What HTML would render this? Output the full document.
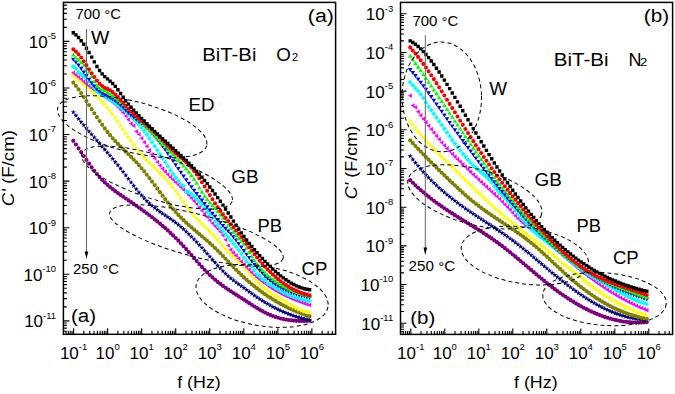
<!DOCTYPE html>
<html><head><meta charset="utf-8"><style>html,body{margin:0;padding:0;background:#fff;overflow:hidden}svg{display:block}</style></head><body>
<svg xmlns="http://www.w3.org/2000/svg" width="675" height="394" viewBox="0 0 675 394" font-family='"Liberation Sans", sans-serif'>
<rect width="675" height="394" fill="#fff"/>
<path d="M71.21 140.85a2.09 2.09 0 1 0 4.18 0a2.09 2.09 0 1 0 -4.18 0zM73.84 144.53a2.09 2.09 0 1 0 4.18 0a2.09 2.09 0 1 0 -4.18 0zM76.46 148.32a2.09 2.09 0 1 0 4.18 0a2.09 2.09 0 1 0 -4.18 0zM79.09 152.18a2.09 2.09 0 1 0 4.18 0a2.09 2.09 0 1 0 -4.18 0zM81.71 156.06a2.09 2.09 0 1 0 4.18 0a2.09 2.09 0 1 0 -4.18 0zM84.34 159.91a2.09 2.09 0 1 0 4.18 0a2.09 2.09 0 1 0 -4.18 0zM86.96 163.69a2.09 2.09 0 1 0 4.18 0a2.09 2.09 0 1 0 -4.18 0zM89.59 167.33a2.09 2.09 0 1 0 4.18 0a2.09 2.09 0 1 0 -4.18 0zM92.21 170.80a2.09 2.09 0 1 0 4.18 0a2.09 2.09 0 1 0 -4.18 0zM94.84 174.05a2.09 2.09 0 1 0 4.18 0a2.09 2.09 0 1 0 -4.18 0zM97.47 177.05a2.09 2.09 0 1 0 4.18 0a2.09 2.09 0 1 0 -4.18 0zM100.09 179.83a2.09 2.09 0 1 0 4.18 0a2.09 2.09 0 1 0 -4.18 0zM102.72 182.41a2.09 2.09 0 1 0 4.18 0a2.09 2.09 0 1 0 -4.18 0zM105.34 184.80a2.09 2.09 0 1 0 4.18 0a2.09 2.09 0 1 0 -4.18 0zM107.97 187.04a2.09 2.09 0 1 0 4.18 0a2.09 2.09 0 1 0 -4.18 0zM110.59 189.15a2.09 2.09 0 1 0 4.18 0a2.09 2.09 0 1 0 -4.18 0zM113.22 191.15a2.09 2.09 0 1 0 4.18 0a2.09 2.09 0 1 0 -4.18 0zM115.84 193.06a2.09 2.09 0 1 0 4.18 0a2.09 2.09 0 1 0 -4.18 0zM118.47 194.91a2.09 2.09 0 1 0 4.18 0a2.09 2.09 0 1 0 -4.18 0zM121.10 196.71a2.09 2.09 0 1 0 4.18 0a2.09 2.09 0 1 0 -4.18 0zM123.72 198.50a2.09 2.09 0 1 0 4.18 0a2.09 2.09 0 1 0 -4.18 0zM126.35 200.30a2.09 2.09 0 1 0 4.18 0a2.09 2.09 0 1 0 -4.18 0zM128.97 202.10a2.09 2.09 0 1 0 4.18 0a2.09 2.09 0 1 0 -4.18 0zM131.60 203.91a2.09 2.09 0 1 0 4.18 0a2.09 2.09 0 1 0 -4.18 0zM134.22 205.73a2.09 2.09 0 1 0 4.18 0a2.09 2.09 0 1 0 -4.18 0zM136.85 207.58a2.09 2.09 0 1 0 4.18 0a2.09 2.09 0 1 0 -4.18 0zM139.47 209.45a2.09 2.09 0 1 0 4.18 0a2.09 2.09 0 1 0 -4.18 0zM142.10 211.35a2.09 2.09 0 1 0 4.18 0a2.09 2.09 0 1 0 -4.18 0zM144.73 213.28a2.09 2.09 0 1 0 4.18 0a2.09 2.09 0 1 0 -4.18 0zM147.35 215.26a2.09 2.09 0 1 0 4.18 0a2.09 2.09 0 1 0 -4.18 0zM149.98 217.27a2.09 2.09 0 1 0 4.18 0a2.09 2.09 0 1 0 -4.18 0zM152.60 219.33a2.09 2.09 0 1 0 4.18 0a2.09 2.09 0 1 0 -4.18 0zM155.23 221.44a2.09 2.09 0 1 0 4.18 0a2.09 2.09 0 1 0 -4.18 0zM157.85 223.60a2.09 2.09 0 1 0 4.18 0a2.09 2.09 0 1 0 -4.18 0zM160.48 225.83a2.09 2.09 0 1 0 4.18 0a2.09 2.09 0 1 0 -4.18 0zM163.10 228.11a2.09 2.09 0 1 0 4.18 0a2.09 2.09 0 1 0 -4.18 0zM165.73 230.47a2.09 2.09 0 1 0 4.18 0a2.09 2.09 0 1 0 -4.18 0zM168.36 232.89a2.09 2.09 0 1 0 4.18 0a2.09 2.09 0 1 0 -4.18 0zM170.98 235.40a2.09 2.09 0 1 0 4.18 0a2.09 2.09 0 1 0 -4.18 0zM173.61 237.98a2.09 2.09 0 1 0 4.18 0a2.09 2.09 0 1 0 -4.18 0zM176.23 240.65a2.09 2.09 0 1 0 4.18 0a2.09 2.09 0 1 0 -4.18 0zM178.86 243.41a2.09 2.09 0 1 0 4.18 0a2.09 2.09 0 1 0 -4.18 0zM181.48 246.25a2.09 2.09 0 1 0 4.18 0a2.09 2.09 0 1 0 -4.18 0zM184.11 249.17a2.09 2.09 0 1 0 4.18 0a2.09 2.09 0 1 0 -4.18 0zM186.73 252.14a2.09 2.09 0 1 0 4.18 0a2.09 2.09 0 1 0 -4.18 0zM189.36 255.13a2.09 2.09 0 1 0 4.18 0a2.09 2.09 0 1 0 -4.18 0zM191.99 258.13a2.09 2.09 0 1 0 4.18 0a2.09 2.09 0 1 0 -4.18 0zM194.61 261.11a2.09 2.09 0 1 0 4.18 0a2.09 2.09 0 1 0 -4.18 0zM197.24 264.06a2.09 2.09 0 1 0 4.18 0a2.09 2.09 0 1 0 -4.18 0zM199.86 266.95a2.09 2.09 0 1 0 4.18 0a2.09 2.09 0 1 0 -4.18 0zM202.49 269.75a2.09 2.09 0 1 0 4.18 0a2.09 2.09 0 1 0 -4.18 0zM205.11 272.46a2.09 2.09 0 1 0 4.18 0a2.09 2.09 0 1 0 -4.18 0zM207.74 275.04a2.09 2.09 0 1 0 4.18 0a2.09 2.09 0 1 0 -4.18 0zM210.36 277.47a2.09 2.09 0 1 0 4.18 0a2.09 2.09 0 1 0 -4.18 0zM212.99 279.76a2.09 2.09 0 1 0 4.18 0a2.09 2.09 0 1 0 -4.18 0zM215.62 281.91a2.09 2.09 0 1 0 4.18 0a2.09 2.09 0 1 0 -4.18 0zM218.24 283.96a2.09 2.09 0 1 0 4.18 0a2.09 2.09 0 1 0 -4.18 0zM220.87 285.90a2.09 2.09 0 1 0 4.18 0a2.09 2.09 0 1 0 -4.18 0zM223.49 287.76a2.09 2.09 0 1 0 4.18 0a2.09 2.09 0 1 0 -4.18 0zM226.12 289.55a2.09 2.09 0 1 0 4.18 0a2.09 2.09 0 1 0 -4.18 0zM228.74 291.28a2.09 2.09 0 1 0 4.18 0a2.09 2.09 0 1 0 -4.18 0zM231.37 292.98a2.09 2.09 0 1 0 4.18 0a2.09 2.09 0 1 0 -4.18 0zM233.99 294.66a2.09 2.09 0 1 0 4.18 0a2.09 2.09 0 1 0 -4.18 0zM236.62 296.33a2.09 2.09 0 1 0 4.18 0a2.09 2.09 0 1 0 -4.18 0zM239.25 298.02a2.09 2.09 0 1 0 4.18 0a2.09 2.09 0 1 0 -4.18 0zM241.87 299.72a2.09 2.09 0 1 0 4.18 0a2.09 2.09 0 1 0 -4.18 0zM244.50 301.43a2.09 2.09 0 1 0 4.18 0a2.09 2.09 0 1 0 -4.18 0zM247.12 303.13a2.09 2.09 0 1 0 4.18 0a2.09 2.09 0 1 0 -4.18 0zM249.75 304.82a2.09 2.09 0 1 0 4.18 0a2.09 2.09 0 1 0 -4.18 0zM252.37 306.47a2.09 2.09 0 1 0 4.18 0a2.09 2.09 0 1 0 -4.18 0zM255.00 308.08a2.09 2.09 0 1 0 4.18 0a2.09 2.09 0 1 0 -4.18 0zM257.62 309.63a2.09 2.09 0 1 0 4.18 0a2.09 2.09 0 1 0 -4.18 0zM260.25 311.10a2.09 2.09 0 1 0 4.18 0a2.09 2.09 0 1 0 -4.18 0zM262.88 312.49a2.09 2.09 0 1 0 4.18 0a2.09 2.09 0 1 0 -4.18 0zM265.50 313.78a2.09 2.09 0 1 0 4.18 0a2.09 2.09 0 1 0 -4.18 0zM268.13 314.96a2.09 2.09 0 1 0 4.18 0a2.09 2.09 0 1 0 -4.18 0zM270.75 316.01a2.09 2.09 0 1 0 4.18 0a2.09 2.09 0 1 0 -4.18 0zM273.38 316.95a2.09 2.09 0 1 0 4.18 0a2.09 2.09 0 1 0 -4.18 0zM276.00 317.77a2.09 2.09 0 1 0 4.18 0a2.09 2.09 0 1 0 -4.18 0zM278.63 318.48a2.09 2.09 0 1 0 4.18 0a2.09 2.09 0 1 0 -4.18 0zM281.25 319.09a2.09 2.09 0 1 0 4.18 0a2.09 2.09 0 1 0 -4.18 0zM283.88 319.60a2.09 2.09 0 1 0 4.18 0a2.09 2.09 0 1 0 -4.18 0zM286.51 320.02a2.09 2.09 0 1 0 4.18 0a2.09 2.09 0 1 0 -4.18 0zM289.13 320.35a2.09 2.09 0 1 0 4.18 0a2.09 2.09 0 1 0 -4.18 0zM291.76 320.61a2.09 2.09 0 1 0 4.18 0a2.09 2.09 0 1 0 -4.18 0zM294.38 320.79a2.09 2.09 0 1 0 4.18 0a2.09 2.09 0 1 0 -4.18 0zM297.01 320.90a2.09 2.09 0 1 0 4.18 0a2.09 2.09 0 1 0 -4.18 0zM299.63 320.94a2.09 2.09 0 1 0 4.18 0a2.09 2.09 0 1 0 -4.18 0zM302.26 320.94a2.09 2.09 0 1 0 4.18 0a2.09 2.09 0 1 0 -4.18 0zM304.88 320.88a2.09 2.09 0 1 0 4.18 0a2.09 2.09 0 1 0 -4.18 0zM307.51 320.77a2.09 2.09 0 1 0 4.18 0a2.09 2.09 0 1 0 -4.18 0z" fill="#800080"/>
<path d="M73.30 109.55L73.98 111.27L75.82 111.38L74.39 112.55L74.85 114.34L73.30 113.35L71.75 114.34L72.21 112.55L70.78 111.38L72.62 111.27zM75.93 112.90L76.60 114.61L78.44 114.73L77.02 115.90L77.48 117.68L75.93 116.69L74.37 117.68L74.83 115.90L73.41 114.73L75.25 114.61zM78.55 116.17L79.23 117.89L81.07 118.00L79.64 119.17L80.11 120.96L78.55 119.97L77.00 120.96L77.46 119.17L76.04 118.00L77.88 117.89zM81.18 119.39L81.85 121.10L83.69 121.21L82.27 122.39L82.73 124.17L81.18 123.18L79.62 124.17L80.08 122.39L78.66 121.21L80.50 121.10zM83.80 122.54L84.48 124.26L86.32 124.37L84.90 125.54L85.36 127.33L83.80 126.34L82.25 127.33L82.71 125.54L81.29 124.37L83.13 124.26zM86.43 125.66L87.10 127.37L88.94 127.48L87.52 128.66L87.98 130.44L86.43 129.45L84.87 130.44L85.33 128.66L83.91 127.48L85.75 127.37zM89.05 128.73L89.73 130.45L91.57 130.56L90.15 131.73L90.61 133.52L89.05 132.53L87.50 133.52L87.96 131.73L86.54 130.56L88.38 130.45zM91.68 131.78L92.35 133.49L94.19 133.61L92.77 134.78L93.23 136.56L91.68 135.57L90.12 136.56L90.59 134.78L89.16 133.61L91.00 133.49zM94.30 134.81L94.98 136.52L96.82 136.63L95.40 137.81L95.86 139.59L94.30 138.60L92.75 139.59L93.21 137.81L91.79 136.63L93.63 136.52zM96.93 137.82L97.61 139.54L99.45 139.65L98.02 140.82L98.48 142.61L96.93 141.62L95.38 142.61L95.84 140.82L94.41 139.65L96.25 139.54zM99.56 140.84L100.23 142.55L102.07 142.66L100.65 143.84L101.11 145.62L99.56 144.63L98.00 145.62L98.46 143.84L97.04 142.66L98.88 142.55zM102.18 143.86L102.86 145.57L104.70 145.68L103.27 146.86L103.74 148.64L102.18 147.65L100.63 148.64L101.09 146.86L99.67 145.68L101.51 145.57zM104.81 146.89L105.48 148.60L107.32 148.72L105.90 149.89L106.36 151.67L104.81 150.68L103.25 151.67L103.71 149.89L102.29 148.72L104.13 148.60zM107.43 149.95L108.11 151.66L109.95 151.77L108.53 152.95L108.99 154.73L107.43 153.74L105.88 154.73L106.34 152.95L104.92 151.77L106.76 151.66zM110.06 153.04L110.73 154.75L112.57 154.86L111.15 156.04L111.61 157.82L110.06 156.83L108.50 157.82L108.96 156.04L107.54 154.86L109.38 154.75zM112.68 156.17L113.36 157.88L115.20 157.99L113.78 159.17L114.24 160.95L112.68 159.96L111.13 160.95L111.59 159.17L110.17 157.99L112.01 157.88zM115.31 159.34L115.98 161.06L117.82 161.17L116.40 162.35L116.86 164.13L115.31 163.14L113.75 164.13L114.22 162.35L112.79 161.17L114.63 161.06zM117.93 162.58L118.61 164.30L120.45 164.41L119.03 165.58L119.49 167.37L117.93 166.38L116.38 167.37L116.84 165.58L115.42 164.41L117.26 164.30zM120.56 165.88L121.24 167.60L123.08 167.71L121.65 168.88L122.11 170.67L120.56 169.68L119.01 170.67L119.47 168.88L118.04 167.71L119.88 167.60zM123.19 169.26L123.86 170.98L125.70 171.09L124.28 172.26L124.74 174.05L123.19 173.06L121.63 174.05L122.09 172.26L120.67 171.09L122.51 170.98zM125.81 172.71L126.49 174.42L128.33 174.53L126.90 175.71L127.37 177.49L125.81 176.50L124.26 177.49L124.72 175.71L123.30 174.53L125.14 174.42zM128.44 176.19L129.11 177.90L130.95 178.01L129.53 179.19L129.99 180.97L128.44 179.98L126.88 180.97L127.34 179.19L125.92 178.01L127.76 177.90zM131.06 179.66L131.74 181.38L133.58 181.49L132.16 182.66L132.62 184.45L131.06 183.46L129.51 184.45L129.97 182.66L128.55 181.49L130.39 181.38zM133.69 183.10L134.36 184.81L136.20 184.92L134.78 186.10L135.24 187.88L133.69 186.89L132.13 187.88L132.59 186.10L131.17 184.92L133.01 184.81zM136.31 186.45L136.99 188.17L138.83 188.28L137.41 189.45L137.87 191.24L136.31 190.25L134.76 191.24L135.22 189.45L133.80 188.28L135.64 188.17zM138.94 189.70L139.61 191.41L141.45 191.53L140.03 192.70L140.49 194.48L138.94 193.49L137.38 194.48L137.85 192.70L136.42 191.53L138.26 191.41zM141.56 192.79L142.24 194.51L144.08 194.62L142.66 195.79L143.12 197.58L141.56 196.59L140.01 197.58L140.47 195.79L139.05 194.62L140.89 194.51zM144.19 195.70L144.87 197.42L146.71 197.53L145.28 198.70L145.74 200.49L144.19 199.50L142.64 200.49L143.10 198.70L141.67 197.53L143.51 197.42zM146.82 198.39L147.49 200.10L149.33 200.22L147.91 201.39L148.37 203.18L146.82 202.19L145.26 203.18L145.72 201.39L144.30 200.22L146.14 200.10zM149.44 200.86L150.12 202.57L151.96 202.69L150.53 203.86L151.00 205.64L149.44 204.65L147.89 205.64L148.35 203.86L146.93 202.69L148.77 202.57zM152.07 203.14L152.74 204.85L154.58 204.97L153.16 206.14L153.62 207.92L152.07 206.93L150.51 207.92L150.97 206.14L149.55 204.97L151.39 204.85zM154.69 205.26L155.37 206.97L157.21 207.09L155.79 208.26L156.25 210.04L154.69 209.05L153.14 210.04L153.60 208.26L152.18 207.09L154.02 206.97zM157.32 207.25L157.99 208.96L159.83 209.08L158.41 210.25L158.87 212.03L157.32 211.05L155.76 212.03L156.22 210.25L154.80 209.08L156.64 208.96zM159.94 209.14L160.62 210.86L162.46 210.97L161.04 212.14L161.50 213.93L159.94 212.94L158.39 213.93L158.85 212.14L157.43 210.97L159.27 210.86zM162.57 210.96L163.24 212.68L165.08 212.79L163.66 213.96L164.12 215.75L162.57 214.76L161.01 215.75L161.48 213.96L160.05 212.79L161.89 212.68zM165.19 212.74L165.87 214.46L167.71 214.57L166.29 215.74L166.75 217.53L165.19 216.54L163.64 217.53L164.10 215.74L162.68 214.57L164.52 214.46zM167.82 214.51L168.50 216.23L170.34 216.34L168.91 217.52L169.37 219.30L167.82 218.31L166.27 219.30L166.73 217.52L165.30 216.34L167.14 216.23zM170.45 216.31L171.12 218.02L172.96 218.13L171.54 219.31L172.00 221.09L170.45 220.10L168.89 221.09L169.35 219.31L167.93 218.13L169.77 218.02zM173.07 218.15L173.75 219.86L175.59 219.97L174.16 221.15L174.63 222.93L173.07 221.94L171.52 222.93L171.98 221.15L170.56 219.97L172.40 219.86zM175.70 220.07L176.37 221.78L178.21 221.89L176.79 223.07L177.25 224.85L175.70 223.86L174.14 224.85L174.60 223.07L173.18 221.89L175.02 221.78zM178.32 222.10L179.00 223.81L180.84 223.92L179.42 225.10L179.88 226.88L178.32 225.89L176.77 226.88L177.23 225.10L175.81 223.92L177.65 223.81zM180.95 224.26L181.62 225.97L183.46 226.08L182.04 227.26L182.50 229.04L180.95 228.05L179.39 229.04L179.85 227.26L178.43 226.08L180.27 225.97zM183.57 226.54L184.25 228.26L186.09 228.37L184.67 229.54L185.13 231.33L183.57 230.34L182.02 231.33L182.48 229.54L181.06 228.37L182.90 228.26zM186.20 228.95L186.87 230.66L188.71 230.77L187.29 231.95L187.75 233.73L186.20 232.74L184.64 233.73L185.11 231.95L183.68 230.77L185.52 230.66zM188.82 231.46L189.50 233.17L191.34 233.28L189.92 234.46L190.38 236.24L188.82 235.25L187.27 236.24L187.73 234.46L186.31 233.28L188.15 233.17zM191.45 234.06L192.13 235.77L193.97 235.89L192.54 237.06L193.00 238.84L191.45 237.85L189.90 238.84L190.36 237.06L188.93 235.89L190.77 235.77zM194.08 236.75L194.75 238.46L196.59 238.57L195.17 239.75L195.63 241.53L194.08 240.54L192.52 241.53L192.98 239.75L191.56 238.57L193.40 238.46zM196.70 239.51L197.38 241.22L199.22 241.34L197.79 242.51L198.26 244.29L196.70 243.30L195.15 244.29L195.61 242.51L194.19 241.34L196.03 241.22zM199.33 242.33L200.00 244.05L201.84 244.16L200.42 245.33L200.88 247.12L199.33 246.13L197.77 247.12L198.23 245.33L196.81 244.16L198.65 244.05zM201.95 245.21L202.63 246.92L204.47 247.03L203.05 248.21L203.51 249.99L201.95 249.00L200.40 249.99L200.86 248.21L199.44 247.03L201.28 246.92zM204.58 248.12L205.25 249.84L207.09 249.95L205.67 251.12L206.13 252.91L204.58 251.92L203.02 252.91L203.48 251.12L202.06 249.95L203.90 249.84zM207.20 251.07L207.88 252.79L209.72 252.90L208.30 254.07L208.76 255.86L207.20 254.87L205.65 255.86L206.11 254.07L204.69 252.90L206.53 252.79zM209.83 254.04L210.50 255.75L212.34 255.87L210.92 257.04L211.38 258.82L209.83 257.83L208.27 258.82L208.74 257.04L207.31 255.87L209.15 255.75zM212.45 257.02L213.13 258.73L214.97 258.84L213.55 260.02L214.01 261.80L212.45 260.81L210.90 261.80L211.36 260.02L209.94 258.84L211.78 258.73zM215.08 259.99L215.76 261.70L217.60 261.82L216.17 262.99L216.63 264.77L215.08 263.78L213.53 264.77L213.99 262.99L212.56 261.82L214.40 261.70zM217.71 262.93L218.38 264.64L220.22 264.76L218.80 265.93L219.26 267.71L217.71 266.72L216.15 267.71L216.61 265.93L215.19 264.76L217.03 264.64zM220.33 265.78L221.01 267.50L222.85 267.61L221.42 268.79L221.89 270.57L220.33 269.58L218.78 270.57L219.24 268.79L217.82 267.61L219.66 267.50zM222.96 268.51L223.63 270.23L225.47 270.34L224.05 271.51L224.51 273.30L222.96 272.31L221.40 273.30L221.86 271.51L220.44 270.34L222.28 270.23zM225.58 271.06L226.26 272.78L228.10 272.89L226.68 274.06L227.14 275.85L225.58 274.86L224.03 275.85L224.49 274.06L223.07 272.89L224.91 272.78zM228.21 273.43L228.88 275.15L230.72 275.26L229.30 276.43L229.76 278.22L228.21 277.23L226.65 278.22L227.11 276.43L225.69 275.26L227.53 275.15zM230.83 275.65L231.51 277.37L233.35 277.48L231.93 278.65L232.39 280.44L230.83 279.45L229.28 280.44L229.74 278.65L228.32 277.48L230.16 277.37zM233.46 277.74L234.13 279.45L235.97 279.57L234.55 280.74L235.01 282.52L233.46 281.53L231.90 282.52L232.37 280.74L230.94 279.57L232.78 279.45zM236.08 279.73L236.76 281.44L238.60 281.56L237.18 282.73L237.64 284.51L236.08 283.52L234.53 284.51L234.99 282.73L233.57 281.56L235.41 281.44zM238.71 281.65L239.39 283.36L241.23 283.47L239.80 284.65L240.26 286.43L238.71 285.44L237.16 286.43L237.62 284.65L236.19 283.47L238.03 283.36zM241.34 283.52L242.01 285.23L243.85 285.34L242.43 286.52L242.89 288.30L241.34 287.31L239.78 288.30L240.24 286.52L238.82 285.34L240.66 285.23zM243.96 285.37L244.64 287.09L246.48 287.20L245.05 288.37L245.52 290.16L243.96 289.17L242.41 290.16L242.87 288.37L241.45 287.20L243.29 287.09zM246.59 287.24L247.26 288.95L249.10 289.06L247.68 290.24L248.14 292.02L246.59 291.03L245.03 292.02L245.49 290.24L244.07 289.06L245.91 288.95zM249.21 289.13L249.89 290.84L251.73 290.95L250.31 292.13L250.77 293.91L249.21 292.92L247.66 293.91L248.12 292.13L246.70 290.95L248.54 290.84zM251.84 291.02L252.51 292.74L254.35 292.85L252.93 294.02L253.39 295.81L251.84 294.82L250.28 295.81L250.74 294.02L249.32 292.85L251.16 292.74zM254.46 292.89L255.14 294.60L256.98 294.72L255.56 295.89L256.02 297.68L254.46 296.69L252.91 297.68L253.37 295.89L251.95 294.72L253.79 294.60zM257.09 294.70L257.76 296.42L259.60 296.53L258.18 297.70L258.64 299.49L257.09 298.50L255.53 299.49L256.00 297.70L254.57 296.53L256.41 296.42zM259.71 296.45L260.39 298.17L262.23 298.28L260.81 299.45L261.27 301.24L259.71 300.25L258.16 301.24L258.62 299.45L257.20 298.28L259.04 298.17zM262.34 298.13L263.02 299.85L264.86 299.96L263.43 301.13L263.89 302.92L262.34 301.93L260.79 302.92L261.25 301.13L259.82 299.96L261.66 299.85zM264.97 299.75L265.64 301.46L267.48 301.58L266.06 302.75L266.52 304.53L264.97 303.54L263.41 304.53L263.87 302.75L262.45 301.58L264.29 301.46zM267.59 301.30L268.27 303.01L270.11 303.13L268.68 304.30L269.15 306.08L267.59 305.09L266.04 306.08L266.50 304.30L265.08 303.13L266.92 303.01zM270.22 302.78L270.89 304.50L272.73 304.61L271.31 305.78L271.77 307.57L270.22 306.58L268.66 307.57L269.12 305.78L267.70 304.61L269.54 304.50zM272.84 304.20L273.52 305.92L275.36 306.03L273.94 307.20L274.40 308.99L272.84 308.00L271.29 308.99L271.75 307.20L270.33 306.03L272.17 305.92zM275.47 305.56L276.14 307.27L277.98 307.38L276.56 308.56L277.02 310.34L275.47 309.35L273.91 310.34L274.37 308.56L272.95 307.38L274.79 307.27zM278.09 306.84L278.77 308.56L280.61 308.67L279.19 309.84L279.65 311.63L278.09 310.64L276.54 311.63L277.00 309.84L275.58 308.67L277.42 308.56zM280.72 308.06L281.39 309.78L283.23 309.89L281.81 311.06L282.27 312.85L280.72 311.86L279.16 312.85L279.63 311.06L278.20 309.89L280.04 309.78zM283.34 309.22L284.02 310.94L285.86 311.05L284.44 312.22L284.90 314.01L283.34 313.02L281.79 314.01L282.25 312.22L280.83 311.05L282.67 310.94zM285.97 310.31L286.65 312.03L288.49 312.14L287.06 313.31L287.52 315.10L285.97 314.11L284.42 315.10L284.88 313.31L283.45 312.14L285.29 312.03zM288.60 311.34L289.27 313.05L291.11 313.17L289.69 314.34L290.15 316.12L288.60 315.13L287.04 316.12L287.50 314.34L286.08 313.17L287.92 313.05zM291.22 312.30L291.90 314.01L293.74 314.13L292.31 315.30L292.78 317.08L291.22 316.09L289.67 317.08L290.13 315.30L288.71 314.13L290.55 314.01zM293.85 313.19L294.52 314.91L296.36 315.02L294.94 316.20L295.40 317.98L293.85 316.99L292.29 317.98L292.75 316.20L291.33 315.02L293.17 314.91zM296.47 314.03L297.15 315.74L298.99 315.85L297.57 317.03L298.03 318.81L296.47 317.82L294.92 318.81L295.38 317.03L293.96 315.85L295.80 315.74zM299.10 314.79L299.77 316.51L301.61 316.62L300.19 317.79L300.65 319.58L299.10 318.59L297.54 319.58L298.00 317.79L296.58 316.62L298.42 316.51zM301.72 315.49L302.40 317.21L304.24 317.32L302.82 318.49L303.28 320.28L301.72 319.29L300.17 320.28L300.63 318.49L299.21 317.32L301.05 317.21zM304.35 316.13L305.02 317.84L306.86 317.96L305.44 319.13L305.90 320.91L304.35 319.92L302.79 320.91L303.26 319.13L301.83 317.96L303.67 317.84zM306.97 316.70L307.65 318.41L309.49 318.53L308.07 319.70L308.53 321.48L306.97 320.49L305.42 321.48L305.88 319.70L304.46 318.53L306.30 318.41zM309.60 317.21L310.28 318.92L312.12 319.03L310.69 320.21L311.15 321.99L309.60 321.00L308.05 321.99L308.51 320.21L307.08 319.03L308.92 318.92z" fill="#000080"/>
<path d="M71.21 82.61a2.09 2.09 0 1 0 4.18 0a2.09 2.09 0 1 0 -4.18 0zM73.84 85.87a2.09 2.09 0 1 0 4.18 0a2.09 2.09 0 1 0 -4.18 0zM76.46 89.40a2.09 2.09 0 1 0 4.18 0a2.09 2.09 0 1 0 -4.18 0zM79.09 93.14a2.09 2.09 0 1 0 4.18 0a2.09 2.09 0 1 0 -4.18 0zM81.71 97.05a2.09 2.09 0 1 0 4.18 0a2.09 2.09 0 1 0 -4.18 0zM84.34 101.06a2.09 2.09 0 1 0 4.18 0a2.09 2.09 0 1 0 -4.18 0zM86.96 105.12a2.09 2.09 0 1 0 4.18 0a2.09 2.09 0 1 0 -4.18 0zM89.59 109.19a2.09 2.09 0 1 0 4.18 0a2.09 2.09 0 1 0 -4.18 0zM92.21 113.22a2.09 2.09 0 1 0 4.18 0a2.09 2.09 0 1 0 -4.18 0zM94.84 117.19a2.09 2.09 0 1 0 4.18 0a2.09 2.09 0 1 0 -4.18 0zM97.47 121.06a2.09 2.09 0 1 0 4.18 0a2.09 2.09 0 1 0 -4.18 0zM100.09 124.83a2.09 2.09 0 1 0 4.18 0a2.09 2.09 0 1 0 -4.18 0zM102.72 128.45a2.09 2.09 0 1 0 4.18 0a2.09 2.09 0 1 0 -4.18 0zM105.34 131.91a2.09 2.09 0 1 0 4.18 0a2.09 2.09 0 1 0 -4.18 0zM107.97 135.18a2.09 2.09 0 1 0 4.18 0a2.09 2.09 0 1 0 -4.18 0zM110.59 138.24a2.09 2.09 0 1 0 4.18 0a2.09 2.09 0 1 0 -4.18 0zM113.22 141.14a2.09 2.09 0 1 0 4.18 0a2.09 2.09 0 1 0 -4.18 0zM115.84 143.89a2.09 2.09 0 1 0 4.18 0a2.09 2.09 0 1 0 -4.18 0zM118.47 146.53a2.09 2.09 0 1 0 4.18 0a2.09 2.09 0 1 0 -4.18 0zM121.10 149.11a2.09 2.09 0 1 0 4.18 0a2.09 2.09 0 1 0 -4.18 0zM123.72 151.66a2.09 2.09 0 1 0 4.18 0a2.09 2.09 0 1 0 -4.18 0zM126.35 154.22a2.09 2.09 0 1 0 4.18 0a2.09 2.09 0 1 0 -4.18 0zM128.97 156.81a2.09 2.09 0 1 0 4.18 0a2.09 2.09 0 1 0 -4.18 0zM131.60 159.49a2.09 2.09 0 1 0 4.18 0a2.09 2.09 0 1 0 -4.18 0zM134.22 162.27a2.09 2.09 0 1 0 4.18 0a2.09 2.09 0 1 0 -4.18 0zM136.85 165.21a2.09 2.09 0 1 0 4.18 0a2.09 2.09 0 1 0 -4.18 0zM139.47 168.27a2.09 2.09 0 1 0 4.18 0a2.09 2.09 0 1 0 -4.18 0zM142.10 171.46a2.09 2.09 0 1 0 4.18 0a2.09 2.09 0 1 0 -4.18 0zM144.73 174.76a2.09 2.09 0 1 0 4.18 0a2.09 2.09 0 1 0 -4.18 0zM147.35 178.14a2.09 2.09 0 1 0 4.18 0a2.09 2.09 0 1 0 -4.18 0zM149.98 181.59a2.09 2.09 0 1 0 4.18 0a2.09 2.09 0 1 0 -4.18 0zM152.60 185.09a2.09 2.09 0 1 0 4.18 0a2.09 2.09 0 1 0 -4.18 0zM155.23 188.63a2.09 2.09 0 1 0 4.18 0a2.09 2.09 0 1 0 -4.18 0zM157.85 192.18a2.09 2.09 0 1 0 4.18 0a2.09 2.09 0 1 0 -4.18 0zM160.48 195.71a2.09 2.09 0 1 0 4.18 0a2.09 2.09 0 1 0 -4.18 0zM163.10 199.20a2.09 2.09 0 1 0 4.18 0a2.09 2.09 0 1 0 -4.18 0zM165.73 202.60a2.09 2.09 0 1 0 4.18 0a2.09 2.09 0 1 0 -4.18 0zM168.36 205.90a2.09 2.09 0 1 0 4.18 0a2.09 2.09 0 1 0 -4.18 0zM170.98 209.06a2.09 2.09 0 1 0 4.18 0a2.09 2.09 0 1 0 -4.18 0zM173.61 212.06a2.09 2.09 0 1 0 4.18 0a2.09 2.09 0 1 0 -4.18 0zM176.23 214.90a2.09 2.09 0 1 0 4.18 0a2.09 2.09 0 1 0 -4.18 0zM178.86 217.60a2.09 2.09 0 1 0 4.18 0a2.09 2.09 0 1 0 -4.18 0zM181.48 220.18a2.09 2.09 0 1 0 4.18 0a2.09 2.09 0 1 0 -4.18 0zM184.11 222.65a2.09 2.09 0 1 0 4.18 0a2.09 2.09 0 1 0 -4.18 0zM186.73 225.04a2.09 2.09 0 1 0 4.18 0a2.09 2.09 0 1 0 -4.18 0zM189.36 227.35a2.09 2.09 0 1 0 4.18 0a2.09 2.09 0 1 0 -4.18 0zM191.99 229.62a2.09 2.09 0 1 0 4.18 0a2.09 2.09 0 1 0 -4.18 0zM194.61 231.85a2.09 2.09 0 1 0 4.18 0a2.09 2.09 0 1 0 -4.18 0zM197.24 234.06a2.09 2.09 0 1 0 4.18 0a2.09 2.09 0 1 0 -4.18 0zM199.86 236.27a2.09 2.09 0 1 0 4.18 0a2.09 2.09 0 1 0 -4.18 0zM202.49 238.50a2.09 2.09 0 1 0 4.18 0a2.09 2.09 0 1 0 -4.18 0zM205.11 240.77a2.09 2.09 0 1 0 4.18 0a2.09 2.09 0 1 0 -4.18 0zM207.74 243.10a2.09 2.09 0 1 0 4.18 0a2.09 2.09 0 1 0 -4.18 0zM210.36 245.49a2.09 2.09 0 1 0 4.18 0a2.09 2.09 0 1 0 -4.18 0zM212.99 247.98a2.09 2.09 0 1 0 4.18 0a2.09 2.09 0 1 0 -4.18 0zM215.62 250.56a2.09 2.09 0 1 0 4.18 0a2.09 2.09 0 1 0 -4.18 0zM218.24 253.23a2.09 2.09 0 1 0 4.18 0a2.09 2.09 0 1 0 -4.18 0zM220.87 255.97a2.09 2.09 0 1 0 4.18 0a2.09 2.09 0 1 0 -4.18 0zM223.49 258.74a2.09 2.09 0 1 0 4.18 0a2.09 2.09 0 1 0 -4.18 0zM226.12 261.53a2.09 2.09 0 1 0 4.18 0a2.09 2.09 0 1 0 -4.18 0zM228.74 264.31a2.09 2.09 0 1 0 4.18 0a2.09 2.09 0 1 0 -4.18 0zM231.37 267.06a2.09 2.09 0 1 0 4.18 0a2.09 2.09 0 1 0 -4.18 0zM233.99 269.76a2.09 2.09 0 1 0 4.18 0a2.09 2.09 0 1 0 -4.18 0zM236.62 272.38a2.09 2.09 0 1 0 4.18 0a2.09 2.09 0 1 0 -4.18 0zM239.25 274.91a2.09 2.09 0 1 0 4.18 0a2.09 2.09 0 1 0 -4.18 0zM241.87 277.37a2.09 2.09 0 1 0 4.18 0a2.09 2.09 0 1 0 -4.18 0zM244.50 279.74a2.09 2.09 0 1 0 4.18 0a2.09 2.09 0 1 0 -4.18 0zM247.12 282.03a2.09 2.09 0 1 0 4.18 0a2.09 2.09 0 1 0 -4.18 0zM249.75 284.24a2.09 2.09 0 1 0 4.18 0a2.09 2.09 0 1 0 -4.18 0zM252.37 286.37a2.09 2.09 0 1 0 4.18 0a2.09 2.09 0 1 0 -4.18 0zM255.00 288.44a2.09 2.09 0 1 0 4.18 0a2.09 2.09 0 1 0 -4.18 0zM257.62 290.43a2.09 2.09 0 1 0 4.18 0a2.09 2.09 0 1 0 -4.18 0zM260.25 292.35a2.09 2.09 0 1 0 4.18 0a2.09 2.09 0 1 0 -4.18 0zM262.88 294.21a2.09 2.09 0 1 0 4.18 0a2.09 2.09 0 1 0 -4.18 0zM265.50 295.99a2.09 2.09 0 1 0 4.18 0a2.09 2.09 0 1 0 -4.18 0zM268.13 297.71a2.09 2.09 0 1 0 4.18 0a2.09 2.09 0 1 0 -4.18 0zM270.75 299.37a2.09 2.09 0 1 0 4.18 0a2.09 2.09 0 1 0 -4.18 0zM273.38 300.96a2.09 2.09 0 1 0 4.18 0a2.09 2.09 0 1 0 -4.18 0zM276.00 302.49a2.09 2.09 0 1 0 4.18 0a2.09 2.09 0 1 0 -4.18 0zM278.63 303.95a2.09 2.09 0 1 0 4.18 0a2.09 2.09 0 1 0 -4.18 0zM281.25 305.36a2.09 2.09 0 1 0 4.18 0a2.09 2.09 0 1 0 -4.18 0zM283.88 306.71a2.09 2.09 0 1 0 4.18 0a2.09 2.09 0 1 0 -4.18 0zM286.51 308.00a2.09 2.09 0 1 0 4.18 0a2.09 2.09 0 1 0 -4.18 0zM289.13 309.23a2.09 2.09 0 1 0 4.18 0a2.09 2.09 0 1 0 -4.18 0zM291.76 310.41a2.09 2.09 0 1 0 4.18 0a2.09 2.09 0 1 0 -4.18 0zM294.38 311.53a2.09 2.09 0 1 0 4.18 0a2.09 2.09 0 1 0 -4.18 0zM297.01 312.60a2.09 2.09 0 1 0 4.18 0a2.09 2.09 0 1 0 -4.18 0zM299.63 313.62a2.09 2.09 0 1 0 4.18 0a2.09 2.09 0 1 0 -4.18 0zM302.26 314.59a2.09 2.09 0 1 0 4.18 0a2.09 2.09 0 1 0 -4.18 0zM304.88 315.50a2.09 2.09 0 1 0 4.18 0a2.09 2.09 0 1 0 -4.18 0zM307.51 316.37a2.09 2.09 0 1 0 4.18 0a2.09 2.09 0 1 0 -4.18 0z" fill="#808000"/>
<path d="M75.70 75.21L71.50 72.81L71.50 77.61zM78.33 77.46L74.13 75.06L74.13 79.86zM80.95 79.66L76.75 77.26L76.75 82.06zM83.58 81.84L79.38 79.44L79.38 84.24zM86.20 84.02L82.00 81.62L82.00 86.42zM88.83 86.22L84.63 83.82L84.63 88.62zM91.45 88.46L87.25 86.06L87.25 90.86zM94.08 90.77L89.88 88.37L89.88 93.17zM96.70 93.17L92.50 90.77L92.50 95.57zM99.33 95.68L95.13 93.28L95.13 98.08zM101.96 98.31L97.76 95.91L97.76 100.71zM104.58 101.10L100.38 98.70L100.38 103.50zM107.21 104.07L103.01 101.67L103.01 106.47zM109.83 107.23L105.63 104.83L105.63 109.63zM112.46 110.59L108.26 108.19L108.26 112.99zM115.08 114.13L110.88 111.73L110.88 116.53zM117.71 117.81L113.51 115.41L113.51 120.21zM120.33 121.59L116.13 119.19L116.13 123.99zM122.96 125.44L118.76 123.04L118.76 127.84zM125.59 129.33L121.39 126.93L121.39 131.73zM128.21 133.21L124.01 130.81L124.01 135.61zM130.84 137.06L126.64 134.66L126.64 139.46zM133.46 140.84L129.26 138.44L129.26 143.24zM136.09 144.51L131.89 142.11L131.89 146.91zM138.71 148.04L134.51 145.64L134.51 150.44zM141.34 151.39L137.14 148.99L137.14 153.79zM143.96 154.53L139.76 152.13L139.76 156.93zM146.59 157.44L142.39 155.04L142.39 159.84zM149.22 160.16L145.02 157.76L145.02 162.56zM151.84 162.73L147.64 160.33L147.64 165.13zM154.47 165.21L150.27 162.81L150.27 167.61zM157.09 167.64L152.89 165.24L152.89 170.04zM159.72 170.07L155.52 167.67L155.52 172.47zM162.34 172.54L158.14 170.14L158.14 174.94zM164.97 175.11L160.77 172.71L160.77 177.51zM167.59 177.82L163.39 175.42L163.39 180.22zM170.22 180.71L166.02 178.31L166.02 183.11zM172.85 183.79L168.65 181.39L168.65 186.19zM175.47 187.05L171.27 184.65L171.27 189.45zM178.10 190.48L173.90 188.08L173.90 192.88zM180.72 194.08L176.52 191.68L176.52 196.48zM183.35 197.84L179.15 195.44L179.15 200.24zM185.97 201.69L181.77 199.29L181.77 204.09zM188.60 205.49L184.40 203.09L184.40 207.89zM191.22 209.11L187.02 206.71L187.02 211.51zM193.85 212.42L189.65 210.02L189.65 214.82zM196.48 215.43L192.28 213.03L192.28 217.83zM199.10 218.22L194.90 215.82L194.90 220.62zM201.73 220.86L197.53 218.46L197.53 223.26zM204.35 223.42L200.15 221.02L200.15 225.82zM206.98 225.98L202.78 223.58L202.78 228.38zM209.60 228.57L205.40 226.17L205.40 230.97zM212.23 231.21L208.03 228.81L208.03 233.61zM214.85 233.90L210.65 231.50L210.65 236.30zM217.48 236.68L213.28 234.28L213.28 239.08zM220.11 239.56L215.91 237.16L215.91 241.96zM222.73 242.54L218.53 240.14L218.53 244.94zM225.36 245.59L221.16 243.19L221.16 247.99zM227.98 248.58L223.78 246.18L223.78 250.98zM230.61 251.38L226.41 248.98L226.41 253.78zM233.23 253.96L229.03 251.56L229.03 256.36zM235.86 256.40L231.66 254.00L231.66 258.80zM238.48 258.80L234.28 256.40L234.28 261.20zM241.11 261.27L236.91 258.87L236.91 263.67zM243.74 263.89L239.54 261.49L239.54 266.29zM246.36 266.70L242.16 264.30L242.16 269.10zM248.99 269.62L244.79 267.22L244.79 272.02zM251.61 272.60L247.41 270.20L247.41 275.00zM254.24 275.57L250.04 273.17L250.04 277.97zM256.86 278.46L252.66 276.06L252.66 280.86zM259.49 281.23L255.29 278.83L255.29 283.63zM262.11 283.83L257.91 281.43L257.91 286.23zM264.74 286.25L260.54 283.85L260.54 288.65zM267.37 288.47L263.17 286.07L263.17 290.87zM269.99 290.49L265.79 288.09L265.79 292.89zM272.62 292.28L268.42 289.88L268.42 294.68zM275.24 293.85L271.04 291.45L271.04 296.25zM277.87 295.27L273.67 292.87L273.67 297.67zM280.49 296.67L276.29 294.27L276.29 299.07zM283.12 298.15L278.92 295.75L278.92 300.55zM285.74 299.75L281.54 297.35L281.54 302.15zM288.37 301.42L284.17 299.02L284.17 303.82zM291.00 303.13L286.80 300.73L286.80 305.53zM293.62 304.81L289.42 302.41L289.42 307.21zM296.25 306.43L292.05 304.03L292.05 308.83zM298.87 307.94L294.67 305.54L294.67 310.34zM301.50 309.28L297.30 306.88L297.30 311.68zM304.12 310.42L299.92 308.02L299.92 312.82zM306.75 311.30L302.55 308.90L302.55 313.70zM309.37 311.88L305.17 309.48L305.17 314.28zM312.00 312.10L307.80 309.70L307.80 314.50z" fill="#ffff00"/>
<path d="M71.00 72.68L75.02 70.38L75.02 74.98zM73.63 74.84L77.65 72.54L77.65 77.14zM76.25 77.04L80.28 74.74L80.28 79.34zM78.88 79.27L82.90 76.97L82.90 81.57zM81.50 81.49L85.53 79.19L85.53 83.79zM84.13 83.69L88.15 81.39L88.15 85.99zM86.75 85.85L90.78 83.55L90.78 88.15zM89.38 87.93L93.40 85.63L93.40 90.23zM92.00 89.92L96.03 87.62L96.03 92.22zM94.63 91.80L98.66 89.50L98.66 94.10zM97.26 93.56L101.28 91.26L101.28 95.86zM99.88 95.25L103.91 92.95L103.91 97.55zM102.51 96.92L106.53 94.62L106.53 99.22zM105.13 98.63L109.16 96.33L109.16 100.93zM107.76 100.44L111.78 98.14L111.78 102.74zM110.38 102.39L114.41 100.09L114.41 104.69zM113.01 104.54L117.03 102.24L117.03 106.84zM115.63 106.94L119.66 104.64L119.66 109.24zM118.26 109.64L122.28 107.34L122.28 111.94zM120.89 112.67L124.91 110.37L124.91 114.97zM123.51 116.00L127.54 113.70L127.54 118.30zM126.14 119.62L130.16 117.32L130.16 121.92zM128.76 123.44L132.79 121.14L132.79 125.74zM131.39 125.63L135.41 123.33L135.41 127.93zM134.01 131.40L138.04 129.10L138.04 133.70zM136.64 134.29L140.66 131.99L140.66 136.59zM139.26 138.23L143.29 135.93L143.29 140.53zM141.89 142.18L145.91 139.88L145.91 144.48zM144.52 146.24L148.54 143.94L148.54 148.54zM147.14 150.35L151.17 148.05L151.17 152.65zM149.77 154.40L153.79 152.10L153.79 156.70zM152.39 158.32L156.42 156.02L156.42 160.62zM155.02 162.01L159.04 159.71L159.04 164.31zM157.64 165.45L161.67 163.15L161.67 167.75zM160.27 168.64L164.29 166.34L164.29 170.94zM162.89 171.64L166.92 169.34L166.92 173.94zM165.52 174.46L169.54 172.16L169.54 176.76zM168.15 177.15L172.17 174.85L172.17 179.45zM170.77 179.74L174.80 177.44L174.80 182.04zM173.40 182.27L177.42 179.97L177.42 184.57zM176.02 184.76L180.05 182.46L180.05 187.06zM178.65 187.25L182.67 184.95L182.67 189.55zM181.27 189.78L185.30 187.48L185.30 192.08zM183.90 192.38L187.92 190.08L187.92 194.68zM186.52 195.08L190.55 192.78L190.55 197.38zM189.15 197.92L193.18 195.62L193.18 200.22zM191.78 200.92L195.80 198.62L195.80 203.22zM194.40 204.05L198.43 201.75L198.43 206.35zM197.03 207.28L201.05 204.98L201.05 209.58zM199.65 210.55L203.68 208.25L203.68 212.85zM202.28 213.83L206.30 211.53L206.30 216.13zM204.90 217.07L208.93 214.77L208.93 219.37zM207.53 220.22L211.55 217.92L211.55 222.52zM210.15 223.25L214.18 220.95L214.18 225.55zM212.78 226.10L216.81 223.80L216.81 228.40zM215.41 228.80L219.43 226.50L219.43 231.10zM218.03 231.68L222.06 229.38L222.06 233.98zM220.66 235.17L224.68 232.87L224.68 237.47zM223.28 239.70L227.31 237.40L227.31 242.00zM225.91 245.44L229.93 243.14L229.93 247.74zM228.53 249.65L232.56 247.35L232.56 251.95zM231.16 252.65L235.18 250.35L235.18 254.95zM233.78 255.60L237.81 253.30L237.81 257.90zM236.41 258.53L240.44 256.23L240.44 260.83zM239.04 261.43L243.06 259.13L243.06 263.73zM241.66 264.28L245.69 261.98L245.69 266.58zM244.29 267.08L248.31 264.78L248.31 269.38zM246.91 269.80L250.94 267.50L250.94 272.10zM249.54 272.42L253.56 270.12L253.56 274.72zM252.16 274.93L256.19 272.63L256.19 277.23zM254.79 277.31L258.81 275.01L258.81 279.61zM257.41 279.53L261.44 277.23L261.44 281.83zM260.04 281.59L264.07 279.29L264.07 283.89zM262.67 283.56L266.69 281.26L266.69 285.86zM265.29 285.44L269.32 283.14L269.32 287.74zM267.92 287.22L271.94 284.92L271.94 289.52zM270.54 288.91L274.57 286.61L274.57 291.21zM273.17 290.50L277.19 288.20L277.19 292.80zM275.79 292.01L279.82 289.71L279.82 294.31zM278.42 293.44L282.44 291.14L282.44 295.74zM281.04 294.79L285.07 292.49L285.07 297.09zM283.67 296.07L287.70 293.77L287.70 298.37zM286.30 297.29L290.32 294.99L290.32 299.59zM288.92 298.44L292.95 296.14L292.95 300.74zM291.55 299.53L295.57 297.23L295.57 301.83zM294.17 300.56L298.20 298.26L298.20 302.86zM296.80 301.55L300.82 299.25L300.82 303.85zM299.42 302.49L303.45 300.19L303.45 304.79zM302.05 303.38L306.07 301.08L306.07 305.68zM304.67 304.24L308.70 301.94L308.70 306.54zM307.30 305.07L311.33 302.77L311.33 307.37z" fill="#ff00ff"/>
<path d="M73.30 64.12L75.77 66.59L73.30 69.07L70.83 66.59zM75.93 66.31L78.40 68.78L75.93 71.26L73.45 68.78zM78.55 69.83L81.02 72.30L78.55 74.78L76.08 72.30zM81.18 72.02L83.65 74.50L81.18 76.97L78.70 74.50zM83.80 73.67L86.27 76.14L83.80 78.62L81.33 76.14zM86.43 75.95L88.90 78.42L86.43 80.89L83.96 78.42zM89.05 78.92L91.53 81.39L89.05 83.87L86.58 81.39zM91.68 82.23L94.15 84.70L91.68 87.17L89.21 84.70zM94.30 85.51L96.78 87.98L94.30 90.45L91.83 87.98zM96.93 88.39L99.40 90.86L96.93 93.33L94.46 90.86zM99.56 90.67L102.03 93.14L99.56 95.62L97.08 93.14zM102.18 92.52L104.65 94.99L102.18 97.46L99.71 94.99zM104.81 94.13L107.28 96.60L104.81 99.07L102.33 96.60zM107.43 95.71L109.90 98.18L107.43 100.65L104.96 98.18zM110.06 97.36L112.53 99.84L110.06 102.31L107.59 99.84zM112.68 99.10L115.16 101.57L112.68 104.04L110.21 101.57zM115.31 100.92L117.78 103.39L115.31 105.87L112.84 103.39zM117.93 102.83L120.41 105.30L117.93 107.77L115.46 105.30zM120.56 104.83L123.03 107.30L120.56 109.78L118.09 107.30zM123.19 106.93L125.66 109.40L123.19 111.87L120.71 109.40zM125.81 109.12L128.28 111.59L125.81 114.07L123.34 111.59zM128.44 111.42L130.91 113.89L128.44 116.37L125.96 113.89zM131.06 113.85L133.53 116.32L131.06 118.79L128.59 116.32zM133.69 116.44L136.16 118.91L133.69 121.38L131.22 118.91zM136.31 119.22L138.79 121.69L136.31 124.16L133.84 121.69zM138.94 122.21L141.41 124.68L138.94 127.16L136.47 124.68zM141.56 125.42L144.04 127.89L141.56 130.36L139.09 127.89zM144.19 128.80L146.66 131.27L144.19 133.75L141.72 131.27zM146.82 132.35L149.29 134.82L146.82 137.29L144.34 134.82zM149.44 136.03L151.91 138.50L149.44 140.98L146.97 138.50zM152.07 139.83L154.54 142.31L152.07 144.78L149.59 142.31zM154.69 143.73L157.16 146.20L154.69 148.67L152.22 146.20zM157.32 147.69L159.79 150.16L157.32 152.63L154.85 150.16zM159.94 151.70L162.42 154.17L159.94 156.65L157.47 154.17zM162.57 155.74L165.04 158.21L162.57 160.68L160.10 158.21zM165.19 159.78L167.67 162.25L165.19 164.72L162.72 162.25zM167.82 163.80L170.29 166.27L167.82 168.74L165.35 166.27zM170.45 167.77L172.92 170.24L170.45 172.71L167.97 170.24zM173.07 171.58L175.54 174.05L173.07 176.52L170.60 174.05zM175.70 175.11L178.17 177.58L175.70 180.05L173.22 177.58zM178.32 178.23L180.79 180.70L178.32 183.17L175.85 180.70zM180.95 182.01L183.42 184.48L180.95 186.95L178.48 184.48zM183.57 183.53L186.05 186.00L183.57 188.47L181.10 186.00zM186.20 189.12L188.67 191.59L186.20 194.06L183.73 191.59zM188.82 189.72L191.30 192.19L188.82 194.66L186.35 192.19zM191.45 191.65L193.92 194.12L191.45 196.59L188.98 194.12zM194.08 194.03L196.55 196.50L194.08 198.98L191.60 196.50zM196.70 196.71L199.17 199.19L196.70 201.66L194.23 199.19zM199.33 199.58L201.80 202.05L199.33 204.53L196.85 202.05zM201.95 202.59L204.42 205.07L201.95 207.54L199.48 205.07zM204.58 205.72L207.05 208.20L204.58 210.67L202.11 208.20zM207.20 208.95L209.68 211.42L207.20 213.89L204.73 211.42zM209.83 212.24L212.30 214.71L209.83 217.18L207.36 214.71zM212.45 215.57L214.93 218.04L212.45 220.52L209.98 218.04zM215.08 218.92L217.55 221.39L215.08 223.86L212.61 221.39zM217.71 222.25L220.18 224.72L217.71 227.20L215.23 224.72zM220.33 225.55L222.80 228.02L220.33 230.49L217.86 228.02zM222.96 228.78L225.43 231.25L222.96 233.72L220.48 231.25zM225.58 231.92L228.05 234.40L225.58 236.87L223.11 234.40zM228.21 235.00L230.68 237.47L228.21 239.94L225.74 237.47zM230.83 238.06L233.31 240.54L230.83 243.01L228.36 240.54zM233.46 241.18L235.93 243.65L233.46 246.12L230.99 243.65zM236.08 244.40L238.56 246.88L236.08 249.35L233.61 246.88zM238.71 247.80L241.18 250.27L238.71 252.75L236.24 250.27zM241.34 251.43L243.81 253.90L241.34 256.37L238.86 253.90zM243.96 255.20L246.43 257.67L243.96 260.14L241.49 257.67zM246.59 258.79L249.06 261.26L246.59 263.74L244.11 261.26zM249.21 261.88L251.68 264.35L249.21 266.82L246.74 264.35zM251.84 264.56L254.31 267.03L251.84 269.50L249.37 267.03zM254.46 267.87L256.94 270.34L254.46 272.81L251.99 270.34zM257.09 271.74L259.56 274.21L257.09 276.69L254.62 274.21zM259.71 273.44L262.19 275.92L259.71 278.39L257.24 275.92zM262.34 276.70L264.81 279.17L262.34 281.65L259.87 279.17zM264.97 277.61L267.44 280.09L264.97 282.56L262.49 280.09zM267.59 280.95L270.06 283.43L267.59 285.90L265.12 283.43zM270.22 282.23L272.69 284.70L270.22 287.17L267.74 284.70zM272.84 283.59L275.31 286.06L272.84 288.54L270.37 286.06zM275.47 285.27L277.94 287.74L275.47 290.21L273.00 287.74zM278.09 286.87L280.57 289.34L278.09 291.81L275.62 289.34zM280.72 288.36L283.19 290.83L280.72 293.31L278.25 290.83zM283.34 289.75L285.82 292.22L283.34 294.70L280.87 292.22zM285.97 291.04L288.44 293.52L285.97 295.99L283.50 293.52zM288.60 292.23L291.07 294.71L288.60 297.18L286.12 294.71zM291.22 293.33L293.69 295.80L291.22 298.28L288.75 295.80zM293.85 294.34L296.32 296.81L293.85 299.28L291.37 296.81zM296.47 295.25L298.94 297.72L296.47 300.19L294.00 297.72zM299.10 296.08L301.57 298.55L299.10 301.02L296.63 298.55zM301.72 296.82L304.20 299.29L301.72 301.76L299.25 299.29zM304.35 297.48L306.82 299.95L304.35 302.42L301.88 299.95zM306.97 298.06L309.45 300.53L306.97 303.00L304.50 300.53zM309.60 298.56L312.07 301.04L309.60 303.51L307.13 301.04z" fill="#00ffff"/>
<path d="M73.30 61.68L75.60 57.66L71.00 57.66zM75.93 64.46L78.23 60.44L73.63 60.44zM78.55 67.55L80.85 63.52L76.25 63.52zM81.18 70.88L83.48 66.86L78.88 66.86zM83.80 74.41L86.10 70.39L81.50 70.39zM86.43 78.07L88.73 74.04L84.13 74.04zM89.05 81.74L91.35 77.72L86.75 77.72zM91.68 85.30L93.98 81.27L89.38 81.27zM94.30 88.58L96.60 84.55L92.00 84.55zM96.93 91.46L99.23 87.43L94.63 87.43zM99.56 93.85L101.86 89.82L97.26 89.82zM102.18 95.75L104.48 91.72L99.88 91.72zM104.81 97.27L107.11 93.25L102.51 93.25zM107.43 98.61L109.73 94.58L105.13 94.58zM110.06 99.92L112.36 95.89L107.76 95.89zM112.68 101.39L114.98 97.36L110.38 97.36zM115.31 103.16L117.61 99.14L113.01 99.14zM117.93 105.25L120.23 101.22L115.63 101.22zM120.56 107.55L122.86 103.52L118.26 103.52zM123.19 109.99L125.49 105.96L120.89 105.96zM125.81 112.49L128.11 108.46L123.51 108.46zM128.44 114.96L130.74 110.94L126.14 110.94zM131.06 117.34L133.36 113.31L128.76 113.31zM133.69 119.59L135.99 115.56L131.39 115.56zM136.31 121.73L138.61 117.70L134.01 117.70zM138.94 123.77L141.24 119.74L136.64 119.74zM141.56 125.78L143.86 121.76L139.26 121.76zM144.19 127.88L146.49 123.86L141.89 123.86zM146.82 130.19L149.12 126.17L144.52 126.17zM149.44 132.74L151.74 128.72L147.14 128.72zM152.07 135.52L154.37 131.50L149.77 131.50zM154.69 138.50L156.99 134.48L152.39 134.48zM157.32 141.67L159.62 137.64L155.02 137.64zM159.94 144.99L162.24 140.97L157.64 140.97zM162.57 148.46L164.87 144.43L160.27 144.43zM165.19 152.05L167.49 148.02L162.89 148.02zM167.82 155.73L170.12 151.70L165.52 151.70zM170.45 159.49L172.75 155.46L168.15 155.46zM173.07 163.30L175.37 159.28L170.77 159.28zM175.70 167.15L178.00 163.13L173.40 163.13zM178.32 171.00L180.62 166.97L176.02 166.97zM180.95 174.81L183.25 170.78L178.65 170.78zM183.57 178.56L185.87 174.53L181.27 174.53zM186.20 182.21L188.50 178.19L183.90 178.19zM188.82 185.78L191.12 181.75L186.52 181.75zM191.45 189.26L193.75 185.24L189.15 185.24zM194.08 192.68L196.38 188.66L191.78 188.66zM196.70 196.04L199.00 192.02L194.40 192.02zM199.33 199.36L201.63 195.34L197.03 195.34zM201.95 202.65L204.25 198.62L199.65 198.62zM204.58 205.91L206.88 201.89L202.28 201.89zM207.20 209.17L209.50 205.15L204.90 205.15zM209.83 212.43L212.13 208.41L207.53 208.41zM212.45 215.67L214.75 211.64L210.15 211.64zM215.08 218.86L217.38 214.84L212.78 214.84zM217.71 221.98L220.01 217.96L215.41 217.96zM220.33 225.01L222.63 220.98L218.03 220.98zM222.96 227.91L225.26 223.89L220.66 223.89zM225.58 230.71L227.88 226.68L223.28 226.68zM228.21 233.48L230.51 229.46L225.91 229.46zM230.83 236.32L233.13 232.29L228.53 232.29zM233.46 239.32L235.76 235.29L231.16 235.29zM236.08 242.55L238.38 238.53L233.78 238.53zM238.71 246.00L241.01 241.98L236.41 241.98zM241.34 249.56L243.64 245.54L239.04 245.54zM243.96 253.14L246.26 249.11L241.66 249.11zM246.59 256.66L248.89 252.63L244.29 252.63zM249.21 260.11L251.51 256.09L246.91 256.09zM251.84 263.48L254.14 259.45L249.54 259.45zM254.46 266.72L256.76 262.70L252.16 262.70zM257.09 269.84L259.39 265.81L254.79 265.81zM259.71 272.80L262.01 268.77L257.41 268.77zM262.34 275.58L264.64 271.55L260.04 271.55zM264.97 278.16L267.27 274.14L262.67 274.14zM267.59 280.55L269.89 276.52L265.29 276.52zM270.22 282.74L272.52 278.72L267.92 278.72zM272.84 284.76L275.14 280.73L270.54 280.73zM275.47 286.60L277.77 282.58L273.17 282.58zM278.09 288.29L280.39 284.26L275.79 284.26zM280.72 289.82L283.02 285.80L278.42 285.80zM283.34 291.22L285.64 287.19L281.04 287.19zM285.97 292.49L288.27 288.46L283.67 288.46zM288.60 293.64L290.90 289.61L286.30 289.61zM291.22 294.68L293.52 290.65L288.92 290.65zM293.85 295.62L296.15 291.60L291.55 291.60zM296.47 296.48L298.77 292.45L294.17 292.45zM299.10 297.25L301.40 293.23L296.80 293.23zM301.72 297.97L304.02 293.94L299.42 293.94zM304.35 298.62L306.65 294.59L302.05 294.59zM306.97 299.23L309.27 295.20L304.67 295.20zM309.60 299.80L311.90 295.77L307.30 295.77z" fill="#0000ff"/>
<path d="M73.30 52.52L75.60 56.54L71.00 56.54zM75.93 55.13L78.23 59.15L73.63 59.15zM78.55 57.54L80.85 61.57L76.25 61.57zM81.18 59.97L83.48 64.00L78.88 64.00zM83.80 62.64L86.10 66.67L81.50 66.67zM86.43 65.77L88.73 69.79L84.13 69.79zM89.05 69.56L91.35 73.59L86.75 73.59zM91.68 74.22L93.98 78.25L89.38 78.25zM94.30 79.29L96.60 83.32L92.00 83.32zM96.93 83.57L99.23 87.59L94.63 87.59zM99.56 86.13L101.86 90.15L97.26 90.15zM102.18 87.29L104.48 91.32L99.88 91.32zM104.81 88.53L107.11 92.56L102.51 92.56zM107.43 90.03L109.73 94.05L105.13 94.05zM110.06 91.74L112.36 95.77L107.76 95.77zM112.68 93.64L114.98 97.66L110.38 97.66zM115.31 95.68L117.61 99.71L113.01 99.71zM117.93 97.84L120.23 101.86L115.63 101.86zM120.56 100.08L122.86 104.10L118.26 104.10zM123.19 102.39L125.49 106.42L120.89 106.42zM125.81 104.78L128.11 108.81L123.51 108.81zM128.44 107.23L130.74 111.26L126.14 111.26zM131.06 109.74L133.36 113.77L128.76 113.77zM133.69 112.30L135.99 116.33L131.39 116.33zM136.31 114.90L138.61 118.93L134.01 118.93zM138.94 117.54L141.24 121.57L136.64 121.57zM141.56 120.21L143.86 124.23L139.26 124.23zM144.19 122.90L146.49 126.93L141.89 126.93zM146.82 125.61L149.12 129.64L144.52 129.64zM149.44 128.33L151.74 132.36L147.14 132.36zM152.07 131.06L154.37 135.08L149.77 135.08zM154.69 133.78L156.99 137.80L152.39 137.80zM157.32 136.49L159.62 140.51L155.02 140.51zM159.94 139.18L162.24 143.20L157.64 143.20zM162.57 141.85L164.87 145.88L160.27 145.88zM165.19 144.49L167.49 148.52L162.89 148.52zM167.82 147.11L170.12 151.13L165.52 151.13zM170.45 149.72L172.75 153.75L168.15 153.75zM173.07 152.35L175.37 156.38L170.77 156.38zM175.70 155.02L178.00 159.04L173.40 159.04zM178.32 157.74L180.62 161.77L176.02 161.77zM180.95 160.54L183.25 164.57L178.65 164.57zM183.57 163.44L185.87 167.47L181.27 167.47zM186.20 166.46L188.50 170.49L183.90 170.49zM188.82 169.62L191.12 173.65L186.52 173.65zM191.45 172.96L193.75 176.99L189.15 176.99zM194.08 176.63L196.38 180.66L191.78 180.66zM196.70 180.80L199.00 184.83L194.40 184.83zM199.33 185.45L201.63 189.48L197.03 189.48zM201.95 189.83L204.25 193.85L199.65 193.85zM204.58 193.64L206.88 197.67L202.28 197.67zM207.20 197.03L209.50 201.06L204.90 201.06zM209.83 200.14L212.13 204.17L207.53 204.17zM212.45 203.10L214.75 207.13L210.15 207.13zM215.08 206.06L217.38 210.08L212.78 210.08zM217.71 209.14L220.01 213.17L215.41 213.17zM220.33 212.42L222.63 216.44L218.03 216.44zM222.96 215.83L225.26 219.85L220.66 219.85zM225.58 219.32L227.88 223.34L223.28 223.34zM228.21 222.83L230.51 226.85L225.91 226.85zM230.83 226.30L233.13 230.33L228.53 230.33zM233.46 229.69L235.76 233.72L231.16 233.72zM236.08 232.93L238.38 236.96L233.78 236.96zM238.71 235.97L241.01 239.99L236.41 239.99zM241.34 238.79L243.64 242.81L239.04 242.81zM243.96 241.76L246.26 245.79L241.66 245.79zM246.59 245.45L248.89 249.47L244.29 249.47zM249.21 249.85L251.51 253.88L246.91 253.88zM251.84 254.30L254.14 258.32L249.54 258.32zM254.46 258.30L256.76 262.32L252.16 262.32zM257.09 261.86L259.39 265.89L254.79 265.89zM259.71 265.04L262.01 269.07L257.41 269.07zM262.34 267.89L264.64 271.92L260.04 271.92zM264.97 270.48L267.27 274.50L262.67 274.50zM267.59 272.85L269.89 276.88L265.29 276.88zM270.22 275.06L272.52 279.09L267.92 279.09zM272.84 277.13L275.14 281.15L270.54 281.15zM275.47 279.05L277.77 283.07L273.17 283.07zM278.09 280.83L280.39 284.86L275.79 284.86zM280.72 282.49L283.02 286.51L278.42 286.51zM283.34 284.01L285.64 288.04L281.04 288.04zM285.97 285.42L288.27 289.45L283.67 289.45zM288.60 286.72L290.90 290.75L286.30 290.75zM291.22 287.91L293.52 291.94L288.92 291.94zM293.85 289.00L296.15 293.03L291.55 293.03zM296.47 289.99L298.77 294.02L294.17 294.02zM299.10 290.90L301.40 294.93L296.80 294.93zM301.72 291.72L304.02 295.75L299.42 295.75zM304.35 292.47L306.65 296.49L302.05 296.49zM306.97 293.14L309.27 297.17L304.67 297.17zM309.60 293.75L311.90 297.77L307.30 297.77z" fill="#00ff00"/>
<path d="M71.26 49.34a2.04 2.04 0 1 0 4.08 0a2.04 2.04 0 1 0 -4.08 0zM73.88 51.47a2.04 2.04 0 1 0 4.08 0a2.04 2.04 0 1 0 -4.08 0zM76.51 54.24a2.04 2.04 0 1 0 4.08 0a2.04 2.04 0 1 0 -4.08 0zM79.13 57.54a2.04 2.04 0 1 0 4.08 0a2.04 2.04 0 1 0 -4.08 0zM81.76 61.21a2.04 2.04 0 1 0 4.08 0a2.04 2.04 0 1 0 -4.08 0zM84.39 65.14a2.04 2.04 0 1 0 4.08 0a2.04 2.04 0 1 0 -4.08 0zM87.01 69.17a2.04 2.04 0 1 0 4.08 0a2.04 2.04 0 1 0 -4.08 0zM89.64 73.18a2.04 2.04 0 1 0 4.08 0a2.04 2.04 0 1 0 -4.08 0zM92.26 77.02a2.04 2.04 0 1 0 4.08 0a2.04 2.04 0 1 0 -4.08 0zM94.89 80.57a2.04 2.04 0 1 0 4.08 0a2.04 2.04 0 1 0 -4.08 0zM97.51 83.66a2.04 2.04 0 1 0 4.08 0a2.04 2.04 0 1 0 -4.08 0zM100.14 86.07a2.04 2.04 0 1 0 4.08 0a2.04 2.04 0 1 0 -4.08 0zM102.76 87.69a2.04 2.04 0 1 0 4.08 0a2.04 2.04 0 1 0 -4.08 0zM105.39 88.90a2.04 2.04 0 1 0 4.08 0a2.04 2.04 0 1 0 -4.08 0zM108.02 90.29a2.04 2.04 0 1 0 4.08 0a2.04 2.04 0 1 0 -4.08 0zM110.64 92.16a2.04 2.04 0 1 0 4.08 0a2.04 2.04 0 1 0 -4.08 0zM113.27 94.45a2.04 2.04 0 1 0 4.08 0a2.04 2.04 0 1 0 -4.08 0zM115.89 97.07a2.04 2.04 0 1 0 4.08 0a2.04 2.04 0 1 0 -4.08 0zM118.52 99.91a2.04 2.04 0 1 0 4.08 0a2.04 2.04 0 1 0 -4.08 0zM121.14 102.87a2.04 2.04 0 1 0 4.08 0a2.04 2.04 0 1 0 -4.08 0zM123.77 105.87a2.04 2.04 0 1 0 4.08 0a2.04 2.04 0 1 0 -4.08 0zM126.39 108.80a2.04 2.04 0 1 0 4.08 0a2.04 2.04 0 1 0 -4.08 0zM129.02 111.57a2.04 2.04 0 1 0 4.08 0a2.04 2.04 0 1 0 -4.08 0zM131.65 114.12a2.04 2.04 0 1 0 4.08 0a2.04 2.04 0 1 0 -4.08 0zM134.27 116.49a2.04 2.04 0 1 0 4.08 0a2.04 2.04 0 1 0 -4.08 0zM136.90 118.73a2.04 2.04 0 1 0 4.08 0a2.04 2.04 0 1 0 -4.08 0zM139.52 120.88a2.04 2.04 0 1 0 4.08 0a2.04 2.04 0 1 0 -4.08 0zM142.15 123.01a2.04 2.04 0 1 0 4.08 0a2.04 2.04 0 1 0 -4.08 0zM144.77 125.15a2.04 2.04 0 1 0 4.08 0a2.04 2.04 0 1 0 -4.08 0zM147.40 127.36a2.04 2.04 0 1 0 4.08 0a2.04 2.04 0 1 0 -4.08 0zM150.02 129.69a2.04 2.04 0 1 0 4.08 0a2.04 2.04 0 1 0 -4.08 0zM152.65 132.17a2.04 2.04 0 1 0 4.08 0a2.04 2.04 0 1 0 -4.08 0zM155.28 134.81a2.04 2.04 0 1 0 4.08 0a2.04 2.04 0 1 0 -4.08 0zM157.90 137.55a2.04 2.04 0 1 0 4.08 0a2.04 2.04 0 1 0 -4.08 0zM160.53 140.33a2.04 2.04 0 1 0 4.08 0a2.04 2.04 0 1 0 -4.08 0zM163.15 143.10a2.04 2.04 0 1 0 4.08 0a2.04 2.04 0 1 0 -4.08 0zM165.78 145.80a2.04 2.04 0 1 0 4.08 0a2.04 2.04 0 1 0 -4.08 0zM168.40 148.40a2.04 2.04 0 1 0 4.08 0a2.04 2.04 0 1 0 -4.08 0zM171.03 150.83a2.04 2.04 0 1 0 4.08 0a2.04 2.04 0 1 0 -4.08 0zM173.65 153.14a2.04 2.04 0 1 0 4.08 0a2.04 2.04 0 1 0 -4.08 0zM176.28 155.37a2.04 2.04 0 1 0 4.08 0a2.04 2.04 0 1 0 -4.08 0zM178.91 157.61a2.04 2.04 0 1 0 4.08 0a2.04 2.04 0 1 0 -4.08 0zM181.53 159.90a2.04 2.04 0 1 0 4.08 0a2.04 2.04 0 1 0 -4.08 0zM184.16 162.31a2.04 2.04 0 1 0 4.08 0a2.04 2.04 0 1 0 -4.08 0zM186.78 164.91a2.04 2.04 0 1 0 4.08 0a2.04 2.04 0 1 0 -4.08 0zM189.41 167.76a2.04 2.04 0 1 0 4.08 0a2.04 2.04 0 1 0 -4.08 0zM192.03 170.92a2.04 2.04 0 1 0 4.08 0a2.04 2.04 0 1 0 -4.08 0zM194.66 174.43a2.04 2.04 0 1 0 4.08 0a2.04 2.04 0 1 0 -4.08 0zM197.28 178.25a2.04 2.04 0 1 0 4.08 0a2.04 2.04 0 1 0 -4.08 0zM199.91 182.30a2.04 2.04 0 1 0 4.08 0a2.04 2.04 0 1 0 -4.08 0zM202.54 186.51a2.04 2.04 0 1 0 4.08 0a2.04 2.04 0 1 0 -4.08 0zM205.16 190.81a2.04 2.04 0 1 0 4.08 0a2.04 2.04 0 1 0 -4.08 0zM207.79 195.10a2.04 2.04 0 1 0 4.08 0a2.04 2.04 0 1 0 -4.08 0zM210.41 199.32a2.04 2.04 0 1 0 4.08 0a2.04 2.04 0 1 0 -4.08 0zM213.04 203.39a2.04 2.04 0 1 0 4.08 0a2.04 2.04 0 1 0 -4.08 0zM215.66 207.25a2.04 2.04 0 1 0 4.08 0a2.04 2.04 0 1 0 -4.08 0zM218.29 210.91a2.04 2.04 0 1 0 4.08 0a2.04 2.04 0 1 0 -4.08 0zM220.91 214.40a2.04 2.04 0 1 0 4.08 0a2.04 2.04 0 1 0 -4.08 0zM223.54 217.75a2.04 2.04 0 1 0 4.08 0a2.04 2.04 0 1 0 -4.08 0zM226.17 221.00a2.04 2.04 0 1 0 4.08 0a2.04 2.04 0 1 0 -4.08 0zM228.79 224.19a2.04 2.04 0 1 0 4.08 0a2.04 2.04 0 1 0 -4.08 0zM231.42 227.35a2.04 2.04 0 1 0 4.08 0a2.04 2.04 0 1 0 -4.08 0zM234.04 230.50a2.04 2.04 0 1 0 4.08 0a2.04 2.04 0 1 0 -4.08 0zM236.67 233.69a2.04 2.04 0 1 0 4.08 0a2.04 2.04 0 1 0 -4.08 0zM239.29 236.94a2.04 2.04 0 1 0 4.08 0a2.04 2.04 0 1 0 -4.08 0zM241.92 240.30a2.04 2.04 0 1 0 4.08 0a2.04 2.04 0 1 0 -4.08 0zM244.54 243.76a2.04 2.04 0 1 0 4.08 0a2.04 2.04 0 1 0 -4.08 0zM247.17 247.27a2.04 2.04 0 1 0 4.08 0a2.04 2.04 0 1 0 -4.08 0zM249.80 250.77a2.04 2.04 0 1 0 4.08 0a2.04 2.04 0 1 0 -4.08 0zM252.42 254.21a2.04 2.04 0 1 0 4.08 0a2.04 2.04 0 1 0 -4.08 0zM255.05 257.53a2.04 2.04 0 1 0 4.08 0a2.04 2.04 0 1 0 -4.08 0zM257.67 260.71a2.04 2.04 0 1 0 4.08 0a2.04 2.04 0 1 0 -4.08 0zM260.30 263.76a2.04 2.04 0 1 0 4.08 0a2.04 2.04 0 1 0 -4.08 0zM262.92 266.66a2.04 2.04 0 1 0 4.08 0a2.04 2.04 0 1 0 -4.08 0zM265.55 269.43a2.04 2.04 0 1 0 4.08 0a2.04 2.04 0 1 0 -4.08 0zM268.17 272.06a2.04 2.04 0 1 0 4.08 0a2.04 2.04 0 1 0 -4.08 0zM270.80 274.56a2.04 2.04 0 1 0 4.08 0a2.04 2.04 0 1 0 -4.08 0zM273.43 276.91a2.04 2.04 0 1 0 4.08 0a2.04 2.04 0 1 0 -4.08 0zM276.05 279.13a2.04 2.04 0 1 0 4.08 0a2.04 2.04 0 1 0 -4.08 0zM278.68 281.22a2.04 2.04 0 1 0 4.08 0a2.04 2.04 0 1 0 -4.08 0zM281.30 283.17a2.04 2.04 0 1 0 4.08 0a2.04 2.04 0 1 0 -4.08 0zM283.93 284.98a2.04 2.04 0 1 0 4.08 0a2.04 2.04 0 1 0 -4.08 0zM286.55 286.66a2.04 2.04 0 1 0 4.08 0a2.04 2.04 0 1 0 -4.08 0zM289.18 288.20a2.04 2.04 0 1 0 4.08 0a2.04 2.04 0 1 0 -4.08 0zM291.80 289.61a2.04 2.04 0 1 0 4.08 0a2.04 2.04 0 1 0 -4.08 0zM294.43 290.88a2.04 2.04 0 1 0 4.08 0a2.04 2.04 0 1 0 -4.08 0zM297.06 292.02a2.04 2.04 0 1 0 4.08 0a2.04 2.04 0 1 0 -4.08 0zM299.68 293.03a2.04 2.04 0 1 0 4.08 0a2.04 2.04 0 1 0 -4.08 0zM302.31 293.90a2.04 2.04 0 1 0 4.08 0a2.04 2.04 0 1 0 -4.08 0zM304.93 294.64a2.04 2.04 0 1 0 4.08 0a2.04 2.04 0 1 0 -4.08 0zM307.56 295.25a2.04 2.04 0 1 0 4.08 0a2.04 2.04 0 1 0 -4.08 0z" fill="#ff0000"/>
<path d="M71.60 31.06h3.40v3.40h-3.40zM74.23 33.21h3.40v3.40h-3.40zM76.85 35.87h3.40v3.40h-3.40zM79.48 39.01h3.40v3.40h-3.40zM82.10 42.57h3.40v3.40h-3.40zM84.73 46.53h3.40v3.40h-3.40zM87.35 50.84h3.40v3.40h-3.40zM89.98 55.45h3.40v3.40h-3.40zM92.60 60.19h3.40v3.40h-3.40zM95.23 64.74h3.40v3.40h-3.40zM97.86 68.80h3.40v3.40h-3.40zM100.48 72.17h3.40v3.40h-3.40zM103.11 74.89h3.40v3.40h-3.40zM105.73 77.20h3.40v3.40h-3.40zM108.36 79.41h3.40v3.40h-3.40zM110.98 81.82h3.40v3.40h-3.40zM113.61 84.70h3.40v3.40h-3.40zM116.23 88.08h3.40v3.40h-3.40zM118.86 91.74h3.40v3.40h-3.40zM121.49 95.49h3.40v3.40h-3.40zM124.11 99.09h3.40v3.40h-3.40zM126.74 102.43h3.40v3.40h-3.40zM129.36 105.52h3.40v3.40h-3.40zM131.99 108.43h3.40v3.40h-3.40zM134.61 111.22h3.40v3.40h-3.40zM137.24 113.95h3.40v3.40h-3.40zM139.86 116.64h3.40v3.40h-3.40zM142.49 119.31h3.40v3.40h-3.40zM145.12 121.94h3.40v3.40h-3.40zM147.74 124.54h3.40v3.40h-3.40zM150.37 127.10h3.40v3.40h-3.40zM152.99 129.63h3.40v3.40h-3.40zM155.62 132.13h3.40v3.40h-3.40zM158.24 134.59h3.40v3.40h-3.40zM160.87 137.02h3.40v3.40h-3.40zM163.49 139.43h3.40v3.40h-3.40zM166.12 141.81h3.40v3.40h-3.40zM168.75 144.20h3.40v3.40h-3.40zM171.37 146.58h3.40v3.40h-3.40zM174.00 148.98h3.40v3.40h-3.40zM176.62 151.39h3.40v3.40h-3.40zM179.25 153.84h3.40v3.40h-3.40zM181.87 156.33h3.40v3.40h-3.40zM184.50 158.86h3.40v3.40h-3.40zM187.12 161.45h3.40v3.40h-3.40zM189.75 164.11h3.40v3.40h-3.40zM192.38 166.84h3.40v3.40h-3.40zM195.00 169.66h3.40v3.40h-3.40zM197.63 172.57h3.40v3.40h-3.40zM200.25 175.59h3.40v3.40h-3.40zM202.88 178.71h3.40v3.40h-3.40zM205.50 181.95h3.40v3.40h-3.40zM208.13 185.29h3.40v3.40h-3.40zM210.75 188.73h3.40v3.40h-3.40zM213.38 192.27h3.40v3.40h-3.40zM216.01 195.90h3.40v3.40h-3.40zM218.63 199.62h3.40v3.40h-3.40zM221.26 203.42h3.40v3.40h-3.40zM223.88 207.31h3.40v3.40h-3.40zM226.51 211.27h3.40v3.40h-3.40zM229.13 215.30h3.40v3.40h-3.40zM231.76 219.38h3.40v3.40h-3.40zM234.38 223.44h3.40v3.40h-3.40zM237.01 227.41h3.40v3.40h-3.40zM239.64 231.22h3.40v3.40h-3.40zM242.26 234.84h3.40v3.40h-3.40zM244.89 238.31h3.40v3.40h-3.40zM247.51 241.65h3.40v3.40h-3.40zM250.14 244.86h3.40v3.40h-3.40zM252.76 247.98h3.40v3.40h-3.40zM255.39 251.02h3.40v3.40h-3.40zM258.01 253.98h3.40v3.40h-3.40zM260.64 256.86h3.40v3.40h-3.40zM263.27 259.65h3.40v3.40h-3.40zM265.89 262.34h3.40v3.40h-3.40zM268.52 264.94h3.40v3.40h-3.40zM271.14 267.43h3.40v3.40h-3.40zM273.77 269.80h3.40v3.40h-3.40zM276.39 272.07h3.40v3.40h-3.40zM279.02 274.20h3.40v3.40h-3.40zM281.64 276.21h3.40v3.40h-3.40zM284.27 278.09h3.40v3.40h-3.40zM286.90 279.83h3.40v3.40h-3.40zM289.52 281.42h3.40v3.40h-3.40zM292.15 282.86h3.40v3.40h-3.40zM294.77 284.14h3.40v3.40h-3.40zM297.40 285.27h3.40v3.40h-3.40zM300.02 286.22h3.40v3.40h-3.40zM302.65 287.00h3.40v3.40h-3.40zM305.27 287.60h3.40v3.40h-3.40zM307.90 288.02h3.40v3.40h-3.40z" fill="#000000"/>
<path d="M408.11 180.14a2.09 2.09 0 1 0 4.18 0a2.09 2.09 0 1 0 -4.18 0zM410.74 182.76a2.09 2.09 0 1 0 4.18 0a2.09 2.09 0 1 0 -4.18 0zM413.37 185.29a2.09 2.09 0 1 0 4.18 0a2.09 2.09 0 1 0 -4.18 0zM416.00 187.73a2.09 2.09 0 1 0 4.18 0a2.09 2.09 0 1 0 -4.18 0zM418.63 190.09a2.09 2.09 0 1 0 4.18 0a2.09 2.09 0 1 0 -4.18 0zM421.25 192.36a2.09 2.09 0 1 0 4.18 0a2.09 2.09 0 1 0 -4.18 0zM423.88 194.57a2.09 2.09 0 1 0 4.18 0a2.09 2.09 0 1 0 -4.18 0zM426.51 196.70a2.09 2.09 0 1 0 4.18 0a2.09 2.09 0 1 0 -4.18 0zM429.14 198.77a2.09 2.09 0 1 0 4.18 0a2.09 2.09 0 1 0 -4.18 0zM431.77 200.77a2.09 2.09 0 1 0 4.18 0a2.09 2.09 0 1 0 -4.18 0zM434.40 202.72a2.09 2.09 0 1 0 4.18 0a2.09 2.09 0 1 0 -4.18 0zM437.03 204.61a2.09 2.09 0 1 0 4.18 0a2.09 2.09 0 1 0 -4.18 0zM439.66 206.46a2.09 2.09 0 1 0 4.18 0a2.09 2.09 0 1 0 -4.18 0zM442.29 208.27a2.09 2.09 0 1 0 4.18 0a2.09 2.09 0 1 0 -4.18 0zM444.91 210.03a2.09 2.09 0 1 0 4.18 0a2.09 2.09 0 1 0 -4.18 0zM447.54 211.76a2.09 2.09 0 1 0 4.18 0a2.09 2.09 0 1 0 -4.18 0zM450.17 213.46a2.09 2.09 0 1 0 4.18 0a2.09 2.09 0 1 0 -4.18 0zM452.80 215.14a2.09 2.09 0 1 0 4.18 0a2.09 2.09 0 1 0 -4.18 0zM455.43 216.80a2.09 2.09 0 1 0 4.18 0a2.09 2.09 0 1 0 -4.18 0zM458.06 218.44a2.09 2.09 0 1 0 4.18 0a2.09 2.09 0 1 0 -4.18 0zM460.69 220.06a2.09 2.09 0 1 0 4.18 0a2.09 2.09 0 1 0 -4.18 0zM463.32 221.68a2.09 2.09 0 1 0 4.18 0a2.09 2.09 0 1 0 -4.18 0zM465.95 223.30a2.09 2.09 0 1 0 4.18 0a2.09 2.09 0 1 0 -4.18 0zM468.57 224.92a2.09 2.09 0 1 0 4.18 0a2.09 2.09 0 1 0 -4.18 0zM471.20 226.54a2.09 2.09 0 1 0 4.18 0a2.09 2.09 0 1 0 -4.18 0zM473.83 228.18a2.09 2.09 0 1 0 4.18 0a2.09 2.09 0 1 0 -4.18 0zM476.46 229.83a2.09 2.09 0 1 0 4.18 0a2.09 2.09 0 1 0 -4.18 0zM479.09 231.50a2.09 2.09 0 1 0 4.18 0a2.09 2.09 0 1 0 -4.18 0zM481.72 233.20a2.09 2.09 0 1 0 4.18 0a2.09 2.09 0 1 0 -4.18 0zM484.35 234.92a2.09 2.09 0 1 0 4.18 0a2.09 2.09 0 1 0 -4.18 0zM486.98 236.68a2.09 2.09 0 1 0 4.18 0a2.09 2.09 0 1 0 -4.18 0zM489.61 238.47a2.09 2.09 0 1 0 4.18 0a2.09 2.09 0 1 0 -4.18 0zM492.23 240.31a2.09 2.09 0 1 0 4.18 0a2.09 2.09 0 1 0 -4.18 0zM494.86 242.20a2.09 2.09 0 1 0 4.18 0a2.09 2.09 0 1 0 -4.18 0zM497.49 244.13a2.09 2.09 0 1 0 4.18 0a2.09 2.09 0 1 0 -4.18 0zM500.12 246.12a2.09 2.09 0 1 0 4.18 0a2.09 2.09 0 1 0 -4.18 0zM502.75 248.15a2.09 2.09 0 1 0 4.18 0a2.09 2.09 0 1 0 -4.18 0zM505.38 250.22a2.09 2.09 0 1 0 4.18 0a2.09 2.09 0 1 0 -4.18 0zM508.01 252.33a2.09 2.09 0 1 0 4.18 0a2.09 2.09 0 1 0 -4.18 0zM510.64 254.48a2.09 2.09 0 1 0 4.18 0a2.09 2.09 0 1 0 -4.18 0zM513.27 256.64a2.09 2.09 0 1 0 4.18 0a2.09 2.09 0 1 0 -4.18 0zM515.89 258.83a2.09 2.09 0 1 0 4.18 0a2.09 2.09 0 1 0 -4.18 0zM518.52 261.04a2.09 2.09 0 1 0 4.18 0a2.09 2.09 0 1 0 -4.18 0zM521.15 263.26a2.09 2.09 0 1 0 4.18 0a2.09 2.09 0 1 0 -4.18 0zM523.78 265.49a2.09 2.09 0 1 0 4.18 0a2.09 2.09 0 1 0 -4.18 0zM526.41 267.72a2.09 2.09 0 1 0 4.18 0a2.09 2.09 0 1 0 -4.18 0zM529.04 269.95a2.09 2.09 0 1 0 4.18 0a2.09 2.09 0 1 0 -4.18 0zM531.67 272.17a2.09 2.09 0 1 0 4.18 0a2.09 2.09 0 1 0 -4.18 0zM534.30 274.38a2.09 2.09 0 1 0 4.18 0a2.09 2.09 0 1 0 -4.18 0zM536.93 276.58a2.09 2.09 0 1 0 4.18 0a2.09 2.09 0 1 0 -4.18 0zM539.55 278.75a2.09 2.09 0 1 0 4.18 0a2.09 2.09 0 1 0 -4.18 0zM542.18 280.90a2.09 2.09 0 1 0 4.18 0a2.09 2.09 0 1 0 -4.18 0zM544.81 283.01a2.09 2.09 0 1 0 4.18 0a2.09 2.09 0 1 0 -4.18 0zM547.44 285.09a2.09 2.09 0 1 0 4.18 0a2.09 2.09 0 1 0 -4.18 0zM550.07 287.13a2.09 2.09 0 1 0 4.18 0a2.09 2.09 0 1 0 -4.18 0zM552.70 289.13a2.09 2.09 0 1 0 4.18 0a2.09 2.09 0 1 0 -4.18 0zM555.33 291.08a2.09 2.09 0 1 0 4.18 0a2.09 2.09 0 1 0 -4.18 0zM557.96 292.98a2.09 2.09 0 1 0 4.18 0a2.09 2.09 0 1 0 -4.18 0zM560.59 294.83a2.09 2.09 0 1 0 4.18 0a2.09 2.09 0 1 0 -4.18 0zM563.21 296.62a2.09 2.09 0 1 0 4.18 0a2.09 2.09 0 1 0 -4.18 0zM565.84 298.37a2.09 2.09 0 1 0 4.18 0a2.09 2.09 0 1 0 -4.18 0zM568.47 300.07a2.09 2.09 0 1 0 4.18 0a2.09 2.09 0 1 0 -4.18 0zM571.10 301.71a2.09 2.09 0 1 0 4.18 0a2.09 2.09 0 1 0 -4.18 0zM573.73 303.30a2.09 2.09 0 1 0 4.18 0a2.09 2.09 0 1 0 -4.18 0zM576.36 304.83a2.09 2.09 0 1 0 4.18 0a2.09 2.09 0 1 0 -4.18 0zM578.99 306.30a2.09 2.09 0 1 0 4.18 0a2.09 2.09 0 1 0 -4.18 0zM581.62 307.72a2.09 2.09 0 1 0 4.18 0a2.09 2.09 0 1 0 -4.18 0zM584.25 309.08a2.09 2.09 0 1 0 4.18 0a2.09 2.09 0 1 0 -4.18 0zM586.87 310.38a2.09 2.09 0 1 0 4.18 0a2.09 2.09 0 1 0 -4.18 0zM589.50 311.63a2.09 2.09 0 1 0 4.18 0a2.09 2.09 0 1 0 -4.18 0zM592.13 312.81a2.09 2.09 0 1 0 4.18 0a2.09 2.09 0 1 0 -4.18 0zM594.76 313.92a2.09 2.09 0 1 0 4.18 0a2.09 2.09 0 1 0 -4.18 0zM597.39 314.98a2.09 2.09 0 1 0 4.18 0a2.09 2.09 0 1 0 -4.18 0zM600.02 315.97a2.09 2.09 0 1 0 4.18 0a2.09 2.09 0 1 0 -4.18 0zM602.65 316.89a2.09 2.09 0 1 0 4.18 0a2.09 2.09 0 1 0 -4.18 0zM605.28 317.75a2.09 2.09 0 1 0 4.18 0a2.09 2.09 0 1 0 -4.18 0zM607.91 318.54a2.09 2.09 0 1 0 4.18 0a2.09 2.09 0 1 0 -4.18 0zM610.53 319.27a2.09 2.09 0 1 0 4.18 0a2.09 2.09 0 1 0 -4.18 0zM613.16 319.92a2.09 2.09 0 1 0 4.18 0a2.09 2.09 0 1 0 -4.18 0zM615.79 320.51a2.09 2.09 0 1 0 4.18 0a2.09 2.09 0 1 0 -4.18 0zM618.42 321.02a2.09 2.09 0 1 0 4.18 0a2.09 2.09 0 1 0 -4.18 0zM621.05 321.47a2.09 2.09 0 1 0 4.18 0a2.09 2.09 0 1 0 -4.18 0zM623.68 321.84a2.09 2.09 0 1 0 4.18 0a2.09 2.09 0 1 0 -4.18 0zM626.31 322.13a2.09 2.09 0 1 0 4.18 0a2.09 2.09 0 1 0 -4.18 0zM628.94 322.35a2.09 2.09 0 1 0 4.18 0a2.09 2.09 0 1 0 -4.18 0zM631.57 322.50a2.09 2.09 0 1 0 4.18 0a2.09 2.09 0 1 0 -4.18 0zM634.19 322.57a2.09 2.09 0 1 0 4.18 0a2.09 2.09 0 1 0 -4.18 0zM636.82 322.56a2.09 2.09 0 1 0 4.18 0a2.09 2.09 0 1 0 -4.18 0zM639.45 322.47a2.09 2.09 0 1 0 4.18 0a2.09 2.09 0 1 0 -4.18 0zM642.08 322.31a2.09 2.09 0 1 0 4.18 0a2.09 2.09 0 1 0 -4.18 0zM644.71 322.06a2.09 2.09 0 1 0 4.18 0a2.09 2.09 0 1 0 -4.18 0z" fill="#800080"/>
<path d="M410.20 153.42L410.88 155.14L412.72 155.25L411.29 156.42L411.75 158.21L410.20 157.22L408.65 158.21L409.11 156.42L407.68 155.25L409.52 155.14zM412.83 156.84L413.50 158.56L415.34 158.67L413.92 159.84L414.38 161.63L412.83 160.64L411.27 161.63L411.74 159.84L410.31 158.67L412.15 158.56zM415.46 160.14L416.13 161.86L417.97 161.97L416.55 163.14L417.01 164.93L415.46 163.94L413.90 164.93L414.36 163.14L412.94 161.97L414.78 161.86zM418.09 163.33L418.76 165.04L420.60 165.16L419.18 166.33L419.64 168.11L418.09 167.12L416.53 168.11L416.99 166.33L415.57 165.16L417.41 165.04zM420.72 166.40L421.39 168.12L423.23 168.23L421.81 169.41L422.27 171.19L420.72 170.20L419.16 171.19L419.62 169.41L418.20 168.23L420.04 168.12zM423.34 169.37L424.02 171.09L425.86 171.20L424.44 172.37L424.90 174.16L423.34 173.17L421.79 174.16L422.25 172.37L420.83 171.20L422.67 171.09zM425.97 172.24L426.65 173.95L428.49 174.07L427.07 175.24L427.53 177.02L425.97 176.03L424.42 177.02L424.88 175.24L423.46 174.07L425.30 173.95zM428.60 175.01L429.28 176.72L431.12 176.84L429.70 178.01L430.16 179.79L428.60 178.80L427.05 179.79L427.51 178.01L426.09 176.84L427.93 176.72zM431.23 177.68L431.91 179.40L433.75 179.51L432.32 180.68L432.79 182.47L431.23 181.48L429.68 182.47L430.14 180.68L428.72 179.51L430.56 179.40zM433.86 180.27L434.54 181.98L436.38 182.10L434.95 183.27L435.41 185.05L433.86 184.06L432.31 185.05L432.77 183.27L431.34 182.10L433.18 181.98zM436.49 182.77L437.16 184.48L439.00 184.60L437.58 185.77L438.04 187.55L436.49 186.56L434.93 187.55L435.40 185.77L433.97 184.60L435.81 184.48zM439.12 185.19L439.79 186.90L441.63 187.02L440.21 188.19L440.67 189.97L439.12 188.98L437.56 189.97L438.02 188.19L436.60 187.02L438.44 186.90zM441.75 187.53L442.42 189.25L444.26 189.36L442.84 190.53L443.30 192.32L441.75 191.33L440.19 192.32L440.65 190.53L439.23 189.36L441.07 189.25zM444.38 189.80L445.05 191.52L446.89 191.63L445.47 192.80L445.93 194.59L444.38 193.60L442.82 194.59L443.28 192.80L441.86 191.63L443.70 191.52zM447.00 192.01L447.68 193.72L449.52 193.84L448.10 195.01L448.56 196.79L447.00 195.80L445.45 196.79L445.91 195.01L444.49 193.84L446.33 193.72zM449.63 194.15L450.31 195.86L452.15 195.98L450.73 197.15L451.19 198.93L449.63 197.94L448.08 198.93L448.54 197.15L447.12 195.98L448.96 195.86zM452.26 196.23L452.94 197.95L454.78 198.06L453.36 199.23L453.82 201.02L452.26 200.03L450.71 201.02L451.17 199.23L449.75 198.06L451.59 197.95zM454.89 198.26L455.57 199.97L457.41 200.09L455.98 201.26L456.45 203.04L454.89 202.05L453.34 203.04L453.80 201.26L452.38 200.09L454.22 199.97zM457.52 200.24L458.20 201.95L460.04 202.07L458.61 203.24L459.07 205.02L457.52 204.03L455.97 205.02L456.43 203.24L455.00 202.07L456.84 201.95zM460.15 202.17L460.82 203.88L462.66 204.00L461.24 205.17L461.70 206.95L460.15 205.96L458.59 206.95L459.06 205.17L457.63 204.00L459.47 203.88zM462.78 204.06L463.45 205.77L465.29 205.89L463.87 207.06L464.33 208.84L462.78 207.85L461.22 208.84L461.68 207.06L460.26 205.89L462.10 205.77zM465.41 205.91L466.08 207.63L467.92 207.74L466.50 208.91L466.96 210.70L465.41 209.71L463.85 210.70L464.31 208.91L462.89 207.74L464.73 207.63zM468.04 207.73L468.71 209.45L470.55 209.56L469.13 210.73L469.59 212.52L468.04 211.53L466.48 212.52L466.94 210.73L465.52 209.56L467.36 209.45zM470.66 209.53L471.34 211.24L473.18 211.35L471.76 212.53L472.22 214.31L470.66 213.32L469.11 214.31L469.57 212.53L468.15 211.35L469.99 211.24zM473.29 211.29L473.97 213.01L475.81 213.12L474.39 214.29L474.85 216.08L473.29 215.09L471.74 216.08L472.20 214.29L470.78 213.12L472.62 213.01zM475.92 213.04L476.60 214.76L478.44 214.87L477.02 216.04L477.48 217.83L475.92 216.84L474.37 217.83L474.83 216.04L473.41 214.87L475.25 214.76zM478.55 214.78L479.23 216.49L481.07 216.60L479.64 217.78L480.11 219.56L478.55 218.57L477.00 219.56L477.46 217.78L476.04 216.60L477.88 216.49zM481.18 216.50L481.86 218.21L483.70 218.33L482.27 219.50L482.73 221.28L481.18 220.29L479.63 221.28L480.09 219.50L478.66 218.33L480.50 218.21zM483.81 218.21L484.48 219.93L486.32 220.04L484.90 221.21L485.36 223.00L483.81 222.01L482.25 223.00L482.72 221.21L481.29 220.04L483.13 219.93zM486.44 219.93L487.11 221.64L488.95 221.75L487.53 222.93L487.99 224.71L486.44 223.72L484.88 224.71L485.34 222.93L483.92 221.75L485.76 221.64zM489.07 221.64L489.74 223.36L491.58 223.47L490.16 224.64L490.62 226.43L489.07 225.44L487.51 226.43L487.97 224.64L486.55 223.47L488.39 223.36zM491.70 223.36L492.37 225.08L494.21 225.19L492.79 226.36L493.25 228.15L491.70 227.16L490.14 228.15L490.60 226.36L489.18 225.19L491.02 225.08zM494.32 225.09L495.00 226.81L496.84 226.92L495.42 228.10L495.88 229.88L494.32 228.89L492.77 229.88L493.23 228.10L491.81 226.92L493.65 226.81zM496.95 226.84L497.63 228.56L499.47 228.67L498.05 229.84L498.51 231.63L496.95 230.64L495.40 231.63L495.86 229.84L494.44 228.67L496.28 228.56zM499.58 228.61L500.26 230.32L502.10 230.44L500.68 231.61L501.14 233.39L499.58 232.40L498.03 233.39L498.49 231.61L497.07 230.44L498.91 230.32zM502.21 230.40L502.89 232.11L504.73 232.23L503.30 233.40L503.77 235.18L502.21 234.19L500.66 235.18L501.12 233.40L499.70 232.23L501.54 232.11zM504.84 232.22L505.52 233.93L507.36 234.04L505.93 235.22L506.39 237.00L504.84 236.01L503.29 237.00L503.75 235.22L502.32 234.04L504.16 233.93zM507.47 234.07L508.14 235.78L509.98 235.89L508.56 237.07L509.02 238.85L507.47 237.86L505.91 238.85L506.38 237.07L504.95 235.89L506.79 235.78zM510.10 235.95L510.77 237.67L512.61 237.78L511.19 238.96L511.65 240.74L510.10 239.75L508.54 240.74L509.00 238.96L507.58 237.78L509.42 237.67zM512.73 237.88L513.40 239.60L515.24 239.71L513.82 240.88L514.28 242.67L512.73 241.68L511.17 242.67L511.63 240.88L510.21 239.71L512.05 239.60zM515.36 239.86L516.03 241.57L517.87 241.68L516.45 242.86L516.91 244.64L515.36 243.65L513.80 244.64L514.26 242.86L512.84 241.68L514.68 241.57zM517.98 241.88L518.66 243.59L520.50 243.70L519.08 244.88L519.54 246.66L517.98 245.67L516.43 246.66L516.89 244.88L515.47 243.70L517.31 243.59zM520.61 243.94L521.29 245.65L523.13 245.77L521.71 246.94L522.17 248.72L520.61 247.73L519.06 248.72L519.52 246.94L518.10 245.77L519.94 245.65zM523.24 246.04L523.92 247.75L525.76 247.86L524.34 249.04L524.80 250.82L523.24 249.83L521.69 250.82L522.15 249.04L520.73 247.86L522.57 247.75zM525.87 248.17L526.55 249.88L528.39 250.00L526.96 251.17L527.43 252.95L525.87 251.96L524.32 252.95L524.78 251.17L523.36 250.00L525.20 249.88zM528.50 250.33L529.18 252.04L531.02 252.15L529.59 253.33L530.05 255.11L528.50 254.12L526.95 255.11L527.41 253.33L525.98 252.15L527.82 252.04zM531.13 252.51L531.80 254.22L533.64 254.34L532.22 255.51L532.68 257.29L531.13 256.30L529.57 257.29L530.04 255.51L528.61 254.34L530.45 254.22zM533.76 254.71L534.43 256.42L536.27 256.53L534.85 257.71L535.31 259.49L533.76 258.50L532.20 259.49L532.66 257.71L531.24 256.53L533.08 256.42zM536.39 256.92L537.06 258.63L538.90 258.75L537.48 259.92L537.94 261.70L536.39 260.71L534.83 261.70L535.29 259.92L533.87 258.75L535.71 258.63zM539.02 259.14L539.69 260.85L541.53 260.97L540.11 262.14L540.57 263.92L539.02 262.93L537.46 263.92L537.92 262.14L536.50 260.97L538.34 260.85zM541.64 261.36L542.32 263.08L544.16 263.19L542.74 264.36L543.20 266.15L541.64 265.16L540.09 266.15L540.55 264.36L539.13 263.19L540.97 263.08zM544.27 263.59L544.95 265.30L546.79 265.42L545.37 266.59L545.83 268.37L544.27 267.38L542.72 268.37L543.18 266.59L541.76 265.42L543.60 265.30zM546.90 265.81L547.58 267.52L549.42 267.63L548.00 268.81L548.46 270.59L546.90 269.60L545.35 270.59L545.81 268.81L544.39 267.63L546.23 267.52zM549.53 268.01L550.21 269.73L552.05 269.84L550.62 271.01L551.09 272.80L549.53 271.81L547.98 272.80L548.44 271.01L547.02 269.84L548.86 269.73zM552.16 270.21L552.84 271.92L554.68 272.03L553.25 273.21L553.71 274.99L552.16 274.00L550.61 274.99L551.07 273.21L549.64 272.03L551.48 271.92zM554.79 272.38L555.46 274.09L557.30 274.21L555.88 275.38L556.34 277.16L554.79 276.17L553.23 277.16L553.70 275.38L552.27 274.21L554.11 274.09zM557.42 274.53L558.09 276.24L559.93 276.35L558.51 277.53L558.97 279.31L557.42 278.32L555.86 279.31L556.32 277.53L554.90 276.35L556.74 276.24zM560.05 276.64L560.72 278.36L562.56 278.47L561.14 279.64L561.60 281.43L560.05 280.44L558.49 281.43L558.95 279.64L557.53 278.47L559.37 278.36zM562.68 278.73L563.35 280.44L565.19 280.56L563.77 281.73L564.23 283.51L562.68 282.52L561.12 283.51L561.58 281.73L560.16 280.56L562.00 280.44zM565.30 280.78L565.98 282.49L567.82 282.61L566.40 283.78L566.86 285.56L565.30 284.57L563.75 285.56L564.21 283.78L562.79 282.61L564.63 282.49zM567.93 282.79L568.61 284.50L570.45 284.62L569.03 285.79L569.49 287.57L567.93 286.58L566.38 287.57L566.84 285.79L565.42 284.62L567.26 284.50zM570.56 284.76L571.24 286.48L573.08 286.59L571.66 287.76L572.12 289.55L570.56 288.56L569.01 289.55L569.47 287.76L568.05 286.59L569.89 286.48zM573.19 286.70L573.87 288.41L575.71 288.52L574.28 289.70L574.75 291.48L573.19 290.49L571.64 291.48L572.10 289.70L570.68 288.52L572.52 288.41zM575.82 288.59L576.50 290.30L578.34 290.41L576.91 291.59L577.37 293.37L575.82 292.38L574.27 293.37L574.73 291.59L573.30 290.41L575.14 290.30zM578.45 290.43L579.12 292.15L580.96 292.26L579.54 293.43L580.00 295.22L578.45 294.23L576.89 295.22L577.36 293.43L575.93 292.26L577.77 292.15zM581.08 292.23L581.75 293.95L583.59 294.06L582.17 295.23L582.63 297.02L581.08 296.03L579.52 297.02L579.98 295.23L578.56 294.06L580.40 293.95zM583.71 293.98L584.38 295.70L586.22 295.81L584.80 296.98L585.26 298.77L583.71 297.78L582.15 298.77L582.61 296.98L581.19 295.81L583.03 295.70zM586.34 295.68L587.01 297.40L588.85 297.51L587.43 298.69L587.89 300.47L586.34 299.48L584.78 300.47L585.24 298.69L583.82 297.51L585.66 297.40zM588.96 297.33L589.64 299.05L591.48 299.16L590.06 300.34L590.52 302.12L588.96 301.13L587.41 302.12L587.87 300.34L586.45 299.16L588.29 299.05zM591.59 298.93L592.27 300.65L594.11 300.76L592.69 301.93L593.15 303.72L591.59 302.73L590.04 303.72L590.50 301.93L589.08 300.76L590.92 300.65zM594.22 300.47L594.90 302.19L596.74 302.30L595.32 303.47L595.78 305.26L594.22 304.27L592.67 305.26L593.13 303.47L591.71 302.30L593.55 302.19zM596.85 301.96L597.53 303.67L599.37 303.79L597.94 304.96L598.41 306.74L596.85 305.75L595.30 306.74L595.76 304.96L594.34 303.79L596.18 303.67zM599.48 303.38L600.16 305.10L602.00 305.21L600.57 306.38L601.03 308.17L599.48 307.18L597.93 308.17L598.39 306.38L596.96 305.21L598.80 305.10zM602.11 304.75L602.78 306.46L604.62 306.58L603.20 307.75L603.66 309.53L602.11 308.54L600.55 309.53L601.02 307.75L599.59 306.58L601.43 306.46zM604.74 306.05L605.41 307.77L607.25 307.88L605.83 309.05L606.29 310.84L604.74 309.85L603.18 310.84L603.64 309.05L602.22 307.88L604.06 307.77zM607.37 307.29L608.04 309.00L609.88 309.12L608.46 310.29L608.92 312.07L607.37 311.08L605.81 312.07L606.27 310.29L604.85 309.12L606.69 309.00zM610.00 308.46L610.67 310.18L612.51 310.29L611.09 311.46L611.55 313.25L610.00 312.26L608.44 313.25L608.90 311.46L607.48 310.29L609.32 310.18zM612.62 309.57L613.30 311.28L615.14 311.39L613.72 312.57L614.18 314.35L612.62 313.36L611.07 314.35L611.53 312.57L610.11 311.39L611.95 311.28zM615.25 310.60L615.93 312.31L617.77 312.43L616.35 313.60L616.81 315.38L615.25 314.39L613.70 315.38L614.16 313.60L612.74 312.43L614.58 312.31zM617.88 311.56L618.56 313.28L620.40 313.39L618.98 314.56L619.44 316.35L617.88 315.36L616.33 316.35L616.79 314.56L615.37 313.39L617.21 313.28zM620.51 312.45L621.19 314.17L623.03 314.28L621.60 315.45L622.07 317.24L620.51 316.25L618.96 317.24L619.42 315.45L618.00 314.28L619.84 314.17zM623.14 313.27L623.82 314.98L625.66 315.09L624.23 316.27L624.69 318.05L623.14 317.06L621.59 318.05L622.05 316.27L620.62 315.09L622.46 314.98zM625.77 314.00L626.44 315.72L628.28 315.83L626.86 317.00L627.32 318.79L625.77 317.80L624.21 318.79L624.68 317.00L623.25 315.83L625.09 315.72zM628.40 314.66L629.07 316.38L630.91 316.49L629.49 317.66L629.95 319.45L628.40 318.46L626.84 319.45L627.30 317.66L625.88 316.49L627.72 316.38zM631.03 315.24L631.70 316.96L633.54 317.07L632.12 318.24L632.58 320.03L631.03 319.04L629.47 320.03L629.93 318.24L628.51 317.07L630.35 316.96zM633.66 315.74L634.33 317.45L636.17 317.56L634.75 318.74L635.21 320.52L633.66 319.53L632.10 320.52L632.56 318.74L631.14 317.56L632.98 317.45zM636.28 316.15L636.96 317.86L638.80 317.98L637.38 319.15L637.84 320.93L636.28 319.94L634.73 320.93L635.19 319.15L633.77 317.98L635.61 317.86zM638.91 316.47L639.59 318.19L641.43 318.30L640.01 319.47L640.47 321.26L638.91 320.27L637.36 321.26L637.82 319.47L636.40 318.30L638.24 318.19zM641.54 316.71L642.22 318.43L644.06 318.54L642.64 319.71L643.10 321.50L641.54 320.51L639.99 321.50L640.45 319.71L639.03 318.54L640.87 318.43zM644.17 316.86L644.85 318.57L646.69 318.69L645.26 319.86L645.73 321.64L644.17 320.65L642.62 321.64L643.08 319.86L641.66 318.69L643.50 318.57zM646.80 316.92L647.48 318.63L649.32 318.74L647.89 319.92L648.35 321.70L646.80 320.71L645.25 321.70L645.71 319.92L644.28 318.74L646.12 318.63z" fill="#000080"/>
<path d="M408.11 140.31a2.09 2.09 0 1 0 4.18 0a2.09 2.09 0 1 0 -4.18 0zM410.74 143.18a2.09 2.09 0 1 0 4.18 0a2.09 2.09 0 1 0 -4.18 0zM413.37 146.02a2.09 2.09 0 1 0 4.18 0a2.09 2.09 0 1 0 -4.18 0zM416.00 148.82a2.09 2.09 0 1 0 4.18 0a2.09 2.09 0 1 0 -4.18 0zM418.63 151.59a2.09 2.09 0 1 0 4.18 0a2.09 2.09 0 1 0 -4.18 0zM421.25 154.33a2.09 2.09 0 1 0 4.18 0a2.09 2.09 0 1 0 -4.18 0zM423.88 157.04a2.09 2.09 0 1 0 4.18 0a2.09 2.09 0 1 0 -4.18 0zM426.51 159.72a2.09 2.09 0 1 0 4.18 0a2.09 2.09 0 1 0 -4.18 0zM429.14 162.38a2.09 2.09 0 1 0 4.18 0a2.09 2.09 0 1 0 -4.18 0zM431.77 165.01a2.09 2.09 0 1 0 4.18 0a2.09 2.09 0 1 0 -4.18 0zM434.40 167.62a2.09 2.09 0 1 0 4.18 0a2.09 2.09 0 1 0 -4.18 0zM437.03 170.21a2.09 2.09 0 1 0 4.18 0a2.09 2.09 0 1 0 -4.18 0zM439.66 172.78a2.09 2.09 0 1 0 4.18 0a2.09 2.09 0 1 0 -4.18 0zM442.29 175.33a2.09 2.09 0 1 0 4.18 0a2.09 2.09 0 1 0 -4.18 0zM444.91 177.86a2.09 2.09 0 1 0 4.18 0a2.09 2.09 0 1 0 -4.18 0zM447.54 180.38a2.09 2.09 0 1 0 4.18 0a2.09 2.09 0 1 0 -4.18 0zM450.17 182.88a2.09 2.09 0 1 0 4.18 0a2.09 2.09 0 1 0 -4.18 0zM452.80 185.37a2.09 2.09 0 1 0 4.18 0a2.09 2.09 0 1 0 -4.18 0zM455.43 187.83a2.09 2.09 0 1 0 4.18 0a2.09 2.09 0 1 0 -4.18 0zM458.06 190.26a2.09 2.09 0 1 0 4.18 0a2.09 2.09 0 1 0 -4.18 0zM460.69 192.65a2.09 2.09 0 1 0 4.18 0a2.09 2.09 0 1 0 -4.18 0zM463.32 195.00a2.09 2.09 0 1 0 4.18 0a2.09 2.09 0 1 0 -4.18 0zM465.95 197.30a2.09 2.09 0 1 0 4.18 0a2.09 2.09 0 1 0 -4.18 0zM468.57 199.54a2.09 2.09 0 1 0 4.18 0a2.09 2.09 0 1 0 -4.18 0zM471.20 201.72a2.09 2.09 0 1 0 4.18 0a2.09 2.09 0 1 0 -4.18 0zM473.83 203.83a2.09 2.09 0 1 0 4.18 0a2.09 2.09 0 1 0 -4.18 0zM476.46 205.87a2.09 2.09 0 1 0 4.18 0a2.09 2.09 0 1 0 -4.18 0zM479.09 207.85a2.09 2.09 0 1 0 4.18 0a2.09 2.09 0 1 0 -4.18 0zM481.72 209.78a2.09 2.09 0 1 0 4.18 0a2.09 2.09 0 1 0 -4.18 0zM484.35 211.66a2.09 2.09 0 1 0 4.18 0a2.09 2.09 0 1 0 -4.18 0zM486.98 213.49a2.09 2.09 0 1 0 4.18 0a2.09 2.09 0 1 0 -4.18 0zM489.61 215.29a2.09 2.09 0 1 0 4.18 0a2.09 2.09 0 1 0 -4.18 0zM492.23 217.07a2.09 2.09 0 1 0 4.18 0a2.09 2.09 0 1 0 -4.18 0zM494.86 218.82a2.09 2.09 0 1 0 4.18 0a2.09 2.09 0 1 0 -4.18 0zM497.49 220.56a2.09 2.09 0 1 0 4.18 0a2.09 2.09 0 1 0 -4.18 0zM500.12 222.29a2.09 2.09 0 1 0 4.18 0a2.09 2.09 0 1 0 -4.18 0zM502.75 224.01a2.09 2.09 0 1 0 4.18 0a2.09 2.09 0 1 0 -4.18 0zM505.38 225.75a2.09 2.09 0 1 0 4.18 0a2.09 2.09 0 1 0 -4.18 0zM508.01 227.49a2.09 2.09 0 1 0 4.18 0a2.09 2.09 0 1 0 -4.18 0zM510.64 229.26a2.09 2.09 0 1 0 4.18 0a2.09 2.09 0 1 0 -4.18 0zM513.27 231.05a2.09 2.09 0 1 0 4.18 0a2.09 2.09 0 1 0 -4.18 0zM515.89 232.88a2.09 2.09 0 1 0 4.18 0a2.09 2.09 0 1 0 -4.18 0zM518.52 234.75a2.09 2.09 0 1 0 4.18 0a2.09 2.09 0 1 0 -4.18 0zM521.15 236.66a2.09 2.09 0 1 0 4.18 0a2.09 2.09 0 1 0 -4.18 0zM523.78 238.63a2.09 2.09 0 1 0 4.18 0a2.09 2.09 0 1 0 -4.18 0zM526.41 240.67a2.09 2.09 0 1 0 4.18 0a2.09 2.09 0 1 0 -4.18 0zM529.04 242.77a2.09 2.09 0 1 0 4.18 0a2.09 2.09 0 1 0 -4.18 0zM531.67 244.95a2.09 2.09 0 1 0 4.18 0a2.09 2.09 0 1 0 -4.18 0zM534.30 247.19a2.09 2.09 0 1 0 4.18 0a2.09 2.09 0 1 0 -4.18 0zM536.93 249.49a2.09 2.09 0 1 0 4.18 0a2.09 2.09 0 1 0 -4.18 0zM539.55 251.84a2.09 2.09 0 1 0 4.18 0a2.09 2.09 0 1 0 -4.18 0zM542.18 254.23a2.09 2.09 0 1 0 4.18 0a2.09 2.09 0 1 0 -4.18 0zM544.81 256.65a2.09 2.09 0 1 0 4.18 0a2.09 2.09 0 1 0 -4.18 0zM547.44 259.09a2.09 2.09 0 1 0 4.18 0a2.09 2.09 0 1 0 -4.18 0zM550.07 261.55a2.09 2.09 0 1 0 4.18 0a2.09 2.09 0 1 0 -4.18 0zM552.70 264.01a2.09 2.09 0 1 0 4.18 0a2.09 2.09 0 1 0 -4.18 0zM555.33 266.47a2.09 2.09 0 1 0 4.18 0a2.09 2.09 0 1 0 -4.18 0zM557.96 268.92a2.09 2.09 0 1 0 4.18 0a2.09 2.09 0 1 0 -4.18 0zM560.59 271.34a2.09 2.09 0 1 0 4.18 0a2.09 2.09 0 1 0 -4.18 0zM563.21 273.74a2.09 2.09 0 1 0 4.18 0a2.09 2.09 0 1 0 -4.18 0zM565.84 276.09a2.09 2.09 0 1 0 4.18 0a2.09 2.09 0 1 0 -4.18 0zM568.47 278.40a2.09 2.09 0 1 0 4.18 0a2.09 2.09 0 1 0 -4.18 0zM571.10 280.65a2.09 2.09 0 1 0 4.18 0a2.09 2.09 0 1 0 -4.18 0zM573.73 282.84a2.09 2.09 0 1 0 4.18 0a2.09 2.09 0 1 0 -4.18 0zM576.36 284.98a2.09 2.09 0 1 0 4.18 0a2.09 2.09 0 1 0 -4.18 0zM578.99 287.06a2.09 2.09 0 1 0 4.18 0a2.09 2.09 0 1 0 -4.18 0zM581.62 289.08a2.09 2.09 0 1 0 4.18 0a2.09 2.09 0 1 0 -4.18 0zM584.25 291.04a2.09 2.09 0 1 0 4.18 0a2.09 2.09 0 1 0 -4.18 0zM586.87 292.95a2.09 2.09 0 1 0 4.18 0a2.09 2.09 0 1 0 -4.18 0zM589.50 294.79a2.09 2.09 0 1 0 4.18 0a2.09 2.09 0 1 0 -4.18 0zM592.13 296.57a2.09 2.09 0 1 0 4.18 0a2.09 2.09 0 1 0 -4.18 0zM594.76 298.29a2.09 2.09 0 1 0 4.18 0a2.09 2.09 0 1 0 -4.18 0zM597.39 299.95a2.09 2.09 0 1 0 4.18 0a2.09 2.09 0 1 0 -4.18 0zM600.02 301.55a2.09 2.09 0 1 0 4.18 0a2.09 2.09 0 1 0 -4.18 0zM602.65 303.09a2.09 2.09 0 1 0 4.18 0a2.09 2.09 0 1 0 -4.18 0zM605.28 304.56a2.09 2.09 0 1 0 4.18 0a2.09 2.09 0 1 0 -4.18 0zM607.91 305.97a2.09 2.09 0 1 0 4.18 0a2.09 2.09 0 1 0 -4.18 0zM610.53 307.32a2.09 2.09 0 1 0 4.18 0a2.09 2.09 0 1 0 -4.18 0zM613.16 308.60a2.09 2.09 0 1 0 4.18 0a2.09 2.09 0 1 0 -4.18 0zM615.79 309.81a2.09 2.09 0 1 0 4.18 0a2.09 2.09 0 1 0 -4.18 0zM618.42 310.96a2.09 2.09 0 1 0 4.18 0a2.09 2.09 0 1 0 -4.18 0zM621.05 312.05a2.09 2.09 0 1 0 4.18 0a2.09 2.09 0 1 0 -4.18 0zM623.68 313.06a2.09 2.09 0 1 0 4.18 0a2.09 2.09 0 1 0 -4.18 0zM626.31 314.01a2.09 2.09 0 1 0 4.18 0a2.09 2.09 0 1 0 -4.18 0zM628.94 314.90a2.09 2.09 0 1 0 4.18 0a2.09 2.09 0 1 0 -4.18 0zM631.57 315.71a2.09 2.09 0 1 0 4.18 0a2.09 2.09 0 1 0 -4.18 0zM634.19 316.46a2.09 2.09 0 1 0 4.18 0a2.09 2.09 0 1 0 -4.18 0zM636.82 317.13a2.09 2.09 0 1 0 4.18 0a2.09 2.09 0 1 0 -4.18 0zM639.45 317.74a2.09 2.09 0 1 0 4.18 0a2.09 2.09 0 1 0 -4.18 0zM642.08 318.27a2.09 2.09 0 1 0 4.18 0a2.09 2.09 0 1 0 -4.18 0zM644.71 318.74a2.09 2.09 0 1 0 4.18 0a2.09 2.09 0 1 0 -4.18 0z" fill="#808000"/>
<path d="M412.60 121.07L408.40 118.67L408.40 123.47zM415.23 124.53L411.03 122.13L411.03 126.93zM417.86 127.87L413.66 125.47L413.66 130.27zM420.49 131.10L416.29 128.70L416.29 133.50zM423.12 134.22L418.92 131.82L418.92 136.62zM425.74 137.25L421.54 134.85L421.54 139.65zM428.37 140.19L424.17 137.79L424.17 142.59zM431.00 143.05L426.80 140.65L426.80 145.45zM433.63 145.84L429.43 143.44L429.43 148.24zM436.26 148.58L432.06 146.18L432.06 150.98zM438.89 151.26L434.69 148.86L434.69 153.66zM441.52 153.91L437.32 151.51L437.32 156.31zM444.15 156.52L439.95 154.12L439.95 158.92zM446.78 159.11L442.58 156.71L442.58 161.51zM449.40 161.68L445.20 159.28L445.20 164.08zM452.03 164.25L447.83 161.85L447.83 166.65zM454.66 166.83L450.46 164.43L450.46 169.23zM457.29 169.41L453.09 167.01L453.09 171.81zM459.92 172.00L455.72 169.60L455.72 174.40zM462.55 174.58L458.35 172.18L458.35 176.98zM465.18 177.16L460.98 174.76L460.98 179.56zM467.81 179.74L463.61 177.34L463.61 182.14zM470.44 182.31L466.24 179.91L466.24 184.71zM473.06 184.88L468.86 182.48L468.86 187.28zM475.69 187.43L471.49 185.03L471.49 189.83zM478.32 189.97L474.12 187.57L474.12 192.37zM480.95 192.50L476.75 190.10L476.75 194.90zM483.58 195.00L479.38 192.60L479.38 197.40zM486.21 197.49L482.01 195.09L482.01 199.89zM488.84 199.95L484.64 197.55L484.64 202.35zM491.47 202.39L487.27 199.99L487.27 204.79zM494.10 204.81L489.90 202.41L489.90 207.21zM496.72 207.19L492.52 204.79L492.52 209.59zM499.35 209.54L495.15 207.14L495.15 211.94zM501.98 211.86L497.78 209.46L497.78 214.26zM504.61 214.14L500.41 211.74L500.41 216.54zM507.24 216.39L503.04 213.99L503.04 218.79zM509.87 218.59L505.67 216.19L505.67 220.99zM512.50 220.75L508.30 218.35L508.30 223.15zM515.13 222.88L510.93 220.48L510.93 225.28zM517.76 224.97L513.56 222.57L513.56 227.37zM520.38 227.04L516.18 224.64L516.18 229.44zM523.01 229.09L518.81 226.69L518.81 231.49zM525.64 231.13L521.44 228.73L521.44 233.53zM528.27 233.16L524.07 230.76L524.07 235.56zM530.90 235.19L526.70 232.79L526.70 237.59zM533.53 237.22L529.33 234.82L529.33 239.62zM536.16 239.27L531.96 236.87L531.96 241.67zM538.79 241.33L534.59 238.93L534.59 243.73zM541.42 243.41L537.22 241.01L537.22 245.81zM544.04 245.52L539.84 243.12L539.84 247.92zM546.67 247.66L542.47 245.26L542.47 250.06zM549.30 249.82L545.10 247.42L545.10 252.22zM551.93 252.00L547.73 249.60L547.73 254.40zM554.56 254.19L550.36 251.79L550.36 256.59zM557.19 256.38L552.99 253.98L552.99 258.78zM559.82 258.56L555.62 256.16L555.62 260.96zM562.45 260.73L558.25 258.33L558.25 263.13zM565.08 262.88L560.88 260.48L560.88 265.28zM567.70 264.99L563.50 262.59L563.50 267.39zM570.33 267.08L566.13 264.68L566.13 269.48zM572.96 269.14L568.76 266.74L568.76 271.54zM575.59 271.18L571.39 268.78L571.39 273.58zM578.22 273.22L574.02 270.82L574.02 275.62zM580.85 275.26L576.65 272.86L576.65 277.66zM583.48 277.30L579.28 274.90L579.28 279.70zM586.11 279.36L581.91 276.96L581.91 281.76zM588.74 281.44L584.54 279.04L584.54 283.84zM591.36 283.52L587.16 281.12L587.16 285.92zM593.99 285.58L589.79 283.18L589.79 287.98zM596.62 287.60L592.42 285.20L592.42 290.00zM599.25 289.59L595.05 287.19L595.05 291.99zM601.88 291.51L597.68 289.11L597.68 293.91zM604.51 293.35L600.31 290.95L600.31 295.75zM607.14 295.11L602.94 292.71L602.94 297.51zM609.77 296.80L605.57 294.40L605.57 299.20zM612.40 298.41L608.20 296.01L608.20 300.81zM615.02 299.96L610.82 297.56L610.82 302.36zM617.65 301.44L613.45 299.04L613.45 303.84zM620.28 302.86L616.08 300.46L616.08 305.26zM622.91 304.21L618.71 301.81L618.71 306.61zM625.54 305.51L621.34 303.11L621.34 307.91zM628.17 306.76L623.97 304.36L623.97 309.16zM630.80 307.96L626.60 305.56L626.60 310.36zM633.43 309.12L629.23 306.72L629.23 311.52zM636.06 310.23L631.86 307.83L631.86 312.63zM638.68 311.30L634.48 308.90L634.48 313.70zM641.31 312.33L637.11 309.93L637.11 314.73zM643.94 313.34L639.74 310.94L639.74 315.74zM646.57 314.31L642.37 311.91L642.37 316.71zM649.20 315.26L645.00 312.86L645.00 317.66z" fill="#ffff00"/>
<path d="M407.90 95.77L411.93 93.47L411.93 98.07zM410.53 105.52L414.55 103.22L414.55 107.82zM413.16 107.27L417.18 104.97L417.18 109.57zM415.79 111.66L419.81 109.36L419.81 113.96zM418.42 115.37L422.44 113.07L422.44 117.67zM421.04 118.91L425.07 116.61L425.07 121.21zM423.67 122.36L427.70 120.06L427.70 124.66zM426.30 125.77L430.33 123.47L430.33 128.07zM428.93 129.20L432.96 126.90L432.96 131.50zM431.56 132.61L435.59 130.31L435.59 134.91zM434.19 135.98L438.21 133.68L438.21 138.28zM436.82 139.27L440.84 136.97L440.84 141.57zM439.45 142.44L443.47 140.14L443.47 144.74zM442.08 145.48L446.10 143.18L446.10 147.78zM444.70 148.41L448.73 146.11L448.73 150.71zM447.33 151.23L451.36 148.93L451.36 153.53zM449.96 153.97L453.99 151.67L453.99 156.27zM452.59 156.64L456.62 154.34L456.62 158.94zM455.22 159.24L459.25 156.94L459.25 161.54zM457.85 161.81L461.87 159.51L461.87 164.11zM460.48 164.35L464.50 162.05L464.50 166.65zM463.11 166.87L467.13 164.57L467.13 169.17zM465.74 169.39L469.76 167.09L469.76 171.69zM468.36 171.92L472.39 169.62L472.39 174.22zM470.99 174.44L475.02 172.14L475.02 176.74zM473.62 176.95L477.65 174.65L477.65 179.25zM476.25 179.45L480.28 177.15L480.28 181.75zM478.88 181.94L482.91 179.64L482.91 184.24zM481.51 184.41L485.53 182.11L485.53 186.71zM484.14 186.87L488.16 184.57L488.16 189.17zM486.77 189.30L490.79 187.00L490.79 191.60zM489.40 191.71L493.42 189.41L493.42 194.01zM492.02 194.09L496.05 191.79L496.05 196.39zM494.65 196.47L498.68 194.17L498.68 198.77zM497.28 199.01L501.31 196.71L501.31 201.31zM499.91 201.81L503.94 199.51L503.94 204.11zM502.54 204.47L506.56 202.17L506.56 206.77zM505.17 206.93L509.19 204.63L509.19 209.23zM507.80 209.62L511.82 207.32L511.82 211.92zM510.43 212.66L514.45 210.36L514.45 214.96zM513.06 215.63L517.08 213.33L517.08 217.93zM515.68 218.36L519.71 216.06L519.71 220.66zM518.31 220.87L522.34 218.57L522.34 223.17zM520.94 223.20L524.97 220.90L524.97 225.50zM523.57 225.39L527.60 223.09L527.60 227.69zM526.20 227.47L530.23 225.17L530.23 229.77zM528.83 229.47L532.85 227.17L532.85 231.77zM531.46 231.44L535.48 229.14L535.48 233.74zM534.09 233.41L538.11 231.11L538.11 235.71zM536.72 235.40L540.74 233.10L540.74 237.70zM539.34 237.47L543.37 235.17L543.37 239.77zM541.97 239.60L546.00 237.30L546.00 241.90zM544.60 241.79L548.63 239.49L548.63 244.09zM547.23 244.04L551.26 241.74L551.26 246.34zM549.86 246.32L553.88 244.02L553.88 248.62zM552.49 248.62L556.51 246.32L556.51 250.92zM555.12 250.94L559.14 248.64L559.14 253.24zM557.75 253.26L561.77 250.96L561.77 255.56zM560.38 255.57L564.40 253.27L564.40 257.87zM563.00 257.86L567.03 255.56L567.03 260.16zM565.63 260.11L569.66 257.81L569.66 262.41zM568.26 262.34L572.29 260.04L572.29 264.64zM570.89 264.52L574.92 262.22L574.92 266.82zM573.52 266.68L577.54 264.38L577.54 268.98zM576.15 268.80L580.17 266.50L580.17 271.10zM578.78 270.89L582.80 268.59L582.80 273.19zM581.41 272.94L585.43 270.64L585.43 275.24zM584.04 274.95L588.06 272.65L588.06 277.25zM586.66 276.93L590.69 274.63L590.69 279.23zM589.29 278.87L593.32 276.57L593.32 281.17zM591.92 280.78L595.95 278.48L595.95 283.08zM594.55 282.65L598.58 280.35L598.58 284.95zM597.18 284.48L601.21 282.18L601.21 286.78zM599.81 286.27L603.83 283.97L603.83 288.57zM602.44 288.02L606.46 285.72L606.46 290.32zM605.07 289.73L609.09 287.43L609.09 292.03zM607.70 291.41L611.72 289.11L611.72 293.71zM610.32 293.04L614.35 290.74L614.35 295.34zM612.95 294.62L616.98 292.32L616.98 296.92zM615.58 296.17L619.61 293.87L619.61 298.47zM618.21 297.67L622.24 295.37L622.24 299.97zM620.84 299.13L624.87 296.83L624.87 301.43zM623.47 300.54L627.49 298.24L627.49 302.84zM626.10 301.91L630.12 299.61L630.12 304.21zM628.73 303.23L632.75 300.93L632.75 305.53zM631.36 304.50L635.38 302.20L635.38 306.80zM633.98 305.73L638.01 303.43L638.01 308.03zM636.61 306.90L640.64 304.60L640.64 309.20zM639.24 308.03L643.27 305.73L643.27 310.33zM641.87 309.11L645.90 306.81L645.90 311.41zM644.50 310.13L648.52 307.83L648.52 312.43z" fill="#ff00ff"/>
<path d="M410.20 79.75L412.67 82.22L410.20 84.69L407.73 82.22zM412.83 82.84L415.30 85.31L412.83 87.78L410.36 85.31zM415.46 85.71L417.93 88.19L415.46 90.66L412.99 88.19zM418.09 88.63L420.56 91.10L418.09 93.58L415.61 91.10zM420.72 91.83L423.19 94.31L420.72 96.78L418.24 94.31zM423.34 95.56L425.82 98.04L423.34 100.51L420.87 98.04zM425.97 100.06L428.45 102.53L425.97 105.00L423.50 102.53zM428.60 104.40L431.07 106.87L428.60 109.34L426.13 106.87zM431.23 107.75L433.70 110.22L431.23 112.69L428.76 110.22zM433.86 111.28L436.33 113.75L433.86 116.23L431.39 113.75zM436.49 115.00L438.96 117.47L436.49 119.94L434.02 117.47zM439.12 118.76L441.59 121.24L439.12 123.71L436.65 121.24zM441.75 122.55L444.22 125.02L441.75 127.49L439.27 125.02zM444.38 126.32L446.85 128.79L444.38 131.26L441.90 128.79zM447.00 130.07L449.48 132.54L447.00 135.01L444.53 132.54zM449.63 133.78L452.11 136.25L449.63 138.72L447.16 136.25zM452.26 137.43L454.73 139.90L452.26 142.38L449.79 139.90zM454.89 141.01L457.36 143.49L454.89 145.96L452.42 143.49zM457.52 144.51L459.99 146.98L457.52 149.46L455.05 146.98zM460.15 147.90L462.62 150.38L460.15 152.85L457.68 150.38zM462.78 151.18L465.25 153.66L462.78 156.13L460.31 153.66zM465.41 154.35L467.88 156.83L465.41 159.30L462.93 156.83zM468.04 157.45L470.51 159.92L468.04 162.39L465.56 159.92zM470.66 160.49L473.14 162.96L470.66 165.43L468.19 162.96zM473.29 163.28L475.77 165.75L473.29 168.23L470.82 165.75zM475.92 165.26L478.39 167.74L475.92 170.21L473.45 167.74zM478.55 167.47L481.02 169.94L478.55 172.41L476.08 169.94zM481.18 169.74L483.65 172.21L481.18 174.68L478.71 172.21zM483.81 171.94L486.28 174.41L483.81 176.89L481.34 174.41zM486.44 174.28L488.91 176.75L486.44 179.22L483.97 176.75zM489.07 176.93L491.54 179.40L489.07 181.88L486.59 179.40zM491.70 180.10L494.17 182.57L491.70 185.04L489.22 182.57zM494.32 183.72L496.80 186.19L494.32 188.66L491.85 186.19zM496.95 187.27L499.43 189.74L496.95 192.22L494.48 189.74zM499.58 190.22L502.05 192.69L499.58 195.17L497.11 192.69zM502.21 192.77L504.68 195.24L502.21 197.71L499.74 195.24zM504.84 195.47L507.31 197.94L504.84 200.41L502.37 197.94zM507.47 198.37L509.94 200.84L507.47 203.31L505.00 200.84zM510.10 201.43L512.57 203.90L510.10 206.37L507.63 203.90zM512.73 204.62L515.20 207.09L512.73 209.56L510.25 207.09zM515.36 207.89L517.83 210.36L515.36 212.84L512.88 210.36zM517.98 211.19L520.46 213.67L517.98 216.14L515.51 213.67zM520.61 214.48L523.09 216.95L520.61 219.43L518.14 216.95zM523.24 217.70L525.71 220.17L523.24 222.65L520.77 220.17zM525.87 220.80L528.34 223.27L525.87 225.75L523.40 223.27zM528.50 223.73L530.97 226.21L528.50 228.68L526.03 226.21zM531.13 226.45L533.60 228.93L531.13 231.40L528.66 228.93zM533.76 228.96L536.23 231.43L533.76 233.91L531.29 231.43zM536.39 231.29L538.86 233.77L536.39 236.24L533.91 233.77zM539.02 233.48L541.49 235.95L539.02 238.42L536.54 235.95zM541.64 235.55L544.12 238.03L541.64 240.50L539.17 238.03zM544.27 237.55L546.75 240.02L544.27 242.49L541.80 240.02zM546.90 239.50L549.37 241.97L546.90 244.44L544.43 241.97zM549.53 241.43L552.00 243.91L549.53 246.38L547.06 243.91zM552.16 243.39L554.63 245.86L552.16 248.34L549.69 245.86zM554.79 245.40L557.26 247.87L554.79 250.35L552.32 247.87zM557.42 247.49L559.89 249.96L557.42 252.44L554.95 249.96zM560.05 249.65L562.52 252.12L560.05 254.59L557.57 252.12zM562.68 251.85L565.15 254.33L562.68 256.80L560.20 254.33zM565.30 254.09L567.78 256.56L565.30 259.03L562.83 256.56zM567.93 256.33L570.41 258.80L567.93 261.27L565.46 258.80zM570.56 258.55L573.03 261.02L570.56 263.50L568.09 261.02zM573.19 260.74L575.66 263.21L573.19 265.68L570.72 263.21zM575.82 262.87L578.29 265.34L575.82 267.81L573.35 265.34zM578.45 264.92L580.92 267.39L578.45 269.86L575.98 267.39zM581.08 266.87L583.55 269.34L581.08 271.81L578.61 269.34zM583.71 268.71L586.18 271.19L583.71 273.66L581.23 271.19zM586.34 270.46L588.81 272.94L586.34 275.41L583.86 272.94zM588.96 272.13L591.44 274.60L588.96 277.08L586.49 274.60zM591.59 273.73L594.07 276.20L591.59 278.68L589.12 276.20zM594.22 275.27L596.69 277.74L594.22 280.22L591.75 277.74zM596.85 276.77L599.32 279.24L596.85 281.71L594.38 279.24zM599.48 278.24L601.95 280.71L599.48 283.18L597.01 280.71zM602.11 279.68L604.58 282.16L602.11 284.63L599.64 282.16zM604.74 281.12L607.21 283.60L604.74 286.07L602.27 283.60zM607.37 282.57L609.84 285.04L607.37 287.52L604.89 285.04zM610.00 284.04L612.47 286.51L610.00 288.98L607.52 286.51zM612.62 285.52L615.10 287.99L612.62 290.46L610.15 287.99zM615.25 287.00L617.73 289.47L615.25 291.94L612.78 289.47zM617.88 288.48L620.35 290.95L617.88 293.42L615.41 290.95zM620.51 289.94L622.98 292.42L620.51 294.89L618.04 292.42zM623.14 291.38L625.61 293.86L623.14 296.33L620.67 293.86zM625.77 292.79L628.24 295.26L625.77 297.74L623.30 295.26zM628.40 294.15L630.87 296.63L628.40 299.10L625.93 296.63zM631.03 295.46L633.50 297.94L631.03 300.41L628.55 297.94zM633.66 296.71L636.13 299.18L633.66 301.66L631.18 299.18zM636.28 297.88L638.76 300.36L636.28 302.83L633.81 300.36zM638.91 298.97L641.39 301.45L638.91 303.92L636.44 301.45zM641.54 299.97L644.01 302.45L641.54 304.92L639.07 302.45zM644.17 300.87L646.64 303.34L644.17 305.81L641.70 303.34zM646.80 301.65L649.27 304.13L646.80 306.60L644.33 304.13z" fill="#00ffff"/>
<path d="M410.20 71.96L412.50 67.93L407.90 67.93zM412.83 74.98L415.13 70.96L410.53 70.96zM415.46 78.14L417.76 74.12L413.16 74.12zM418.09 81.42L420.39 77.39L415.79 77.39zM420.72 84.80L423.02 80.77L418.42 80.77zM423.34 88.26L425.64 84.24L421.04 84.24zM425.97 91.80L428.27 87.78L423.67 87.78zM428.60 95.40L430.90 91.37L426.30 91.37zM431.23 99.04L433.53 95.02L428.93 95.02zM433.86 102.72L436.16 98.70L431.56 98.70zM436.49 106.42L438.79 102.40L434.19 102.40zM439.12 110.14L441.42 106.11L436.82 106.11zM441.75 113.86L444.05 109.83L439.45 109.83zM444.38 117.57L446.68 113.54L442.08 113.54zM447.00 121.26L449.30 117.23L444.70 117.23zM449.63 124.92L451.93 120.90L447.33 120.90zM452.26 128.57L454.56 124.54L449.96 124.54zM454.89 132.20L457.19 128.17L452.59 128.17zM457.52 135.80L459.82 131.78L455.22 131.78zM460.15 139.39L462.45 135.36L457.85 135.36zM462.78 142.95L465.08 138.93L460.48 138.93zM465.41 146.50L467.71 142.48L463.11 142.48zM468.04 150.03L470.34 146.01L465.74 146.01zM470.66 153.54L472.96 149.52L468.36 149.52zM473.29 157.03L475.59 153.01L470.99 153.01zM475.92 160.51L478.22 156.49L473.62 156.49zM478.55 163.97L480.85 159.94L476.25 159.94zM481.18 167.41L483.48 163.39L478.88 163.39zM483.81 170.84L486.11 166.81L481.51 166.81zM486.44 174.24L488.74 170.22L484.14 170.22zM489.07 177.63L491.37 173.60L486.77 173.60zM491.70 180.99L494.00 176.96L489.40 176.96zM494.32 184.32L496.62 180.30L492.02 180.30zM496.95 187.63L499.25 183.60L494.65 183.60zM499.58 190.90L501.88 186.88L497.28 186.88zM502.21 194.15L504.51 190.12L499.91 190.12zM504.84 197.36L507.14 193.33L502.54 193.33zM507.47 200.53L509.77 196.51L505.17 196.51zM510.10 203.67L512.40 199.65L507.80 199.65zM512.73 206.77L515.03 202.74L510.43 202.74zM515.36 209.82L517.66 205.80L513.06 205.80zM517.98 212.84L520.28 208.81L515.68 208.81zM520.61 215.80L522.91 211.78L518.31 211.78zM523.24 218.72L525.54 214.70L520.94 214.70zM525.87 221.59L528.17 217.57L523.57 217.57zM528.50 224.41L530.80 220.38L526.20 220.38zM531.13 227.17L533.43 223.15L528.83 223.15zM533.76 229.88L536.06 225.86L531.46 225.86zM536.39 232.54L538.69 228.51L534.09 228.51zM539.02 235.14L541.32 231.12L536.72 231.12zM541.64 237.69L543.94 233.67L539.34 233.67zM544.27 240.19L546.57 236.16L541.97 236.16zM546.90 242.64L549.20 238.61L544.60 238.61zM549.53 245.03L551.83 241.01L547.23 241.01zM552.16 247.37L554.46 243.35L549.86 243.35zM554.79 249.67L557.09 245.64L552.49 245.64zM557.42 251.91L559.72 247.89L555.12 247.89zM560.05 254.11L562.35 250.08L557.75 250.08zM562.68 256.25L564.98 252.22L560.38 252.22zM565.30 258.35L567.60 254.32L563.00 254.32zM567.93 260.39L570.23 256.37L565.63 256.37zM570.56 262.39L572.86 258.37L568.26 258.37zM573.19 264.34L575.49 260.32L570.89 260.32zM575.82 266.25L578.12 262.22L573.52 262.22zM578.45 268.11L580.75 264.08L576.15 264.08zM581.08 269.92L583.38 265.90L578.78 265.90zM583.71 271.69L586.01 267.66L581.41 267.66zM586.34 273.41L588.64 269.38L584.04 269.38zM588.96 275.08L591.26 271.06L586.66 271.06zM591.59 276.72L593.89 272.69L589.29 272.69zM594.22 278.30L596.52 274.28L591.92 274.28zM596.85 279.85L599.15 275.82L594.55 275.82zM599.48 281.35L601.78 277.32L597.18 277.32zM602.11 282.81L604.41 278.78L599.81 278.78zM604.74 284.22L607.04 280.20L602.44 280.20zM607.37 285.60L609.67 281.57L605.07 281.57zM610.00 286.93L612.30 282.91L607.70 282.91zM612.62 288.22L614.92 284.20L610.32 284.20zM615.25 289.47L617.55 285.45L612.95 285.45zM617.88 290.69L620.18 286.66L615.58 286.66zM620.51 291.86L622.81 287.83L618.21 287.83zM623.14 292.99L625.44 288.97L620.84 288.97zM625.77 294.08L628.07 290.06L623.47 290.06zM628.40 295.14L630.70 291.11L626.10 291.11zM631.03 296.16L633.33 292.13L628.73 292.13zM633.66 297.14L635.96 293.11L631.36 293.11zM636.28 298.08L638.58 294.05L633.98 294.05zM638.91 298.99L641.21 294.96L636.61 294.96zM641.54 299.86L643.84 295.83L639.24 295.83zM644.17 300.69L646.47 296.67L641.87 296.67zM646.80 301.49L649.10 297.46L644.50 297.46z" fill="#0000ff"/>
<path d="M410.20 53.64L412.50 57.67L407.90 57.67zM412.83 57.26L415.13 61.29L410.53 61.29zM415.46 60.92L417.76 64.94L413.16 64.94zM418.09 64.61L420.39 68.64L415.79 68.64zM420.72 68.34L423.02 72.37L418.42 72.37zM423.34 72.10L425.64 76.13L421.04 76.13zM425.97 75.89L428.27 79.91L423.67 79.91zM428.60 79.70L430.90 83.73L426.30 83.73zM431.23 83.54L433.53 87.56L428.93 87.56zM433.86 87.39L436.16 91.42L431.56 91.42zM436.49 91.27L438.79 95.29L434.19 95.29zM439.12 95.16L441.42 99.18L436.82 99.18zM441.75 99.05L444.05 103.08L439.45 103.08zM444.38 102.96L446.68 106.99L442.08 106.99zM447.00 106.88L449.30 110.90L444.70 110.90zM449.63 110.79L451.93 114.82L447.33 114.82zM452.26 114.71L454.56 118.74L449.96 118.74zM454.89 118.63L457.19 122.65L452.59 122.65zM457.52 122.54L459.82 126.56L455.22 126.56zM460.15 126.44L462.45 130.46L457.85 130.46zM462.78 130.33L465.08 134.36L460.48 134.36zM465.41 134.21L467.71 138.23L463.11 138.23zM468.04 138.07L470.34 142.09L465.74 142.09zM470.66 141.91L472.96 145.94L468.36 145.94zM473.29 145.73L475.59 149.76L470.99 149.76zM475.92 149.53L478.22 153.55L473.62 153.55zM478.55 153.29L480.85 157.32L476.25 157.32zM481.18 157.03L483.48 161.06L478.88 161.06zM483.81 160.74L486.11 164.76L481.51 164.76zM486.44 164.41L488.74 168.43L484.14 168.43zM489.07 168.05L491.37 172.07L486.77 172.07zM491.70 171.65L494.00 175.67L489.40 175.67zM494.32 175.21L496.62 179.24L492.02 179.24zM496.95 178.74L499.25 182.77L494.65 182.77zM499.58 182.23L501.88 186.25L497.28 186.25zM502.21 185.68L504.51 189.70L499.91 189.70zM504.84 189.08L507.14 193.11L502.54 193.11zM507.47 192.45L509.77 196.47L505.17 196.47zM510.10 195.77L512.40 199.79L507.80 199.79zM512.73 199.04L515.03 203.07L510.43 203.07zM515.36 202.27L517.66 206.30L513.06 206.30zM517.98 205.45L520.28 209.48L515.68 209.48zM520.61 208.58L522.91 212.61L518.31 212.61zM523.24 211.66L525.54 215.69L520.94 215.69zM525.87 214.70L528.17 218.72L523.57 218.72zM528.50 217.67L530.80 221.70L526.20 221.70zM531.13 220.60L533.43 224.62L528.83 224.62zM533.76 223.47L536.06 227.50L531.46 227.50zM536.39 226.29L538.69 230.31L534.09 230.31zM539.02 229.05L541.32 233.08L536.72 233.08zM541.64 231.76L543.94 235.78L539.34 235.78zM544.27 234.40L546.57 238.43L541.97 238.43zM546.90 236.99L549.20 241.02L544.60 241.02zM549.53 239.52L551.83 243.55L547.23 243.55zM552.16 242.00L554.46 246.02L549.86 246.02zM554.79 244.41L557.09 248.43L552.49 248.43zM557.42 246.75L559.72 250.78L555.12 250.78zM560.05 249.04L562.35 253.07L557.75 253.07zM562.68 251.26L564.98 255.29L560.38 255.29zM565.30 253.42L567.60 257.45L563.00 257.45zM567.93 255.52L570.23 259.54L565.63 259.54zM570.56 257.54L572.86 261.57L568.26 261.57zM573.19 259.51L575.49 263.53L570.89 263.53zM575.82 261.40L578.12 265.43L573.52 265.43zM578.45 263.23L580.75 267.26L576.15 267.26zM581.08 265.00L583.38 269.02L578.78 269.02zM583.71 266.71L586.01 270.73L581.41 270.73zM586.34 268.36L588.64 272.38L584.04 272.38zM588.96 269.95L591.26 273.97L586.66 273.97zM591.59 271.49L593.89 275.51L589.29 275.51zM594.22 272.97L596.52 277.00L591.92 277.00zM596.85 274.41L599.15 278.44L594.55 278.44zM599.48 275.80L601.78 279.83L597.18 279.83zM602.11 277.15L604.41 281.17L599.81 281.17zM604.74 278.45L607.04 282.48L602.44 282.48zM607.37 279.71L609.67 283.74L605.07 283.74zM610.00 280.94L612.30 284.96L607.70 284.96zM612.62 282.12L614.92 286.15L610.32 286.15zM615.25 283.27L617.55 287.30L612.95 287.30zM617.88 284.39L620.18 288.42L615.58 288.42zM620.51 285.48L622.81 289.51L618.21 289.51zM623.14 286.54L625.44 290.57L620.84 290.57zM625.77 287.58L628.07 291.60L623.47 291.60zM628.40 288.59L630.70 292.62L626.10 292.62zM631.03 289.58L633.33 293.61L628.73 293.61zM633.66 290.55L635.96 294.58L631.36 294.58zM636.28 291.51L638.58 295.53L633.98 295.53zM638.91 292.45L641.21 296.47L636.61 296.47zM641.54 293.38L643.84 297.40L639.24 297.40zM644.17 294.29L646.47 298.32L641.87 298.32zM646.80 295.20L649.10 299.23L644.50 299.23z" fill="#00ff00"/>
<path d="M408.16 47.40a2.04 2.04 0 1 0 4.08 0a2.04 2.04 0 1 0 -4.08 0zM410.79 50.42a2.04 2.04 0 1 0 4.08 0a2.04 2.04 0 1 0 -4.08 0zM413.42 53.58a2.04 2.04 0 1 0 4.08 0a2.04 2.04 0 1 0 -4.08 0zM416.04 56.89a2.04 2.04 0 1 0 4.08 0a2.04 2.04 0 1 0 -4.08 0zM418.67 60.33a2.04 2.04 0 1 0 4.08 0a2.04 2.04 0 1 0 -4.08 0zM421.30 63.89a2.04 2.04 0 1 0 4.08 0a2.04 2.04 0 1 0 -4.08 0zM423.93 67.57a2.04 2.04 0 1 0 4.08 0a2.04 2.04 0 1 0 -4.08 0zM426.56 71.34a2.04 2.04 0 1 0 4.08 0a2.04 2.04 0 1 0 -4.08 0zM429.19 75.20a2.04 2.04 0 1 0 4.08 0a2.04 2.04 0 1 0 -4.08 0zM431.82 79.15a2.04 2.04 0 1 0 4.08 0a2.04 2.04 0 1 0 -4.08 0zM434.45 83.16a2.04 2.04 0 1 0 4.08 0a2.04 2.04 0 1 0 -4.08 0zM437.08 87.23a2.04 2.04 0 1 0 4.08 0a2.04 2.04 0 1 0 -4.08 0zM439.70 91.35a2.04 2.04 0 1 0 4.08 0a2.04 2.04 0 1 0 -4.08 0zM442.33 95.51a2.04 2.04 0 1 0 4.08 0a2.04 2.04 0 1 0 -4.08 0zM444.96 99.70a2.04 2.04 0 1 0 4.08 0a2.04 2.04 0 1 0 -4.08 0zM447.59 103.90a2.04 2.04 0 1 0 4.08 0a2.04 2.04 0 1 0 -4.08 0zM450.22 108.11a2.04 2.04 0 1 0 4.08 0a2.04 2.04 0 1 0 -4.08 0zM452.85 112.32a2.04 2.04 0 1 0 4.08 0a2.04 2.04 0 1 0 -4.08 0zM455.48 116.52a2.04 2.04 0 1 0 4.08 0a2.04 2.04 0 1 0 -4.08 0zM458.11 120.69a2.04 2.04 0 1 0 4.08 0a2.04 2.04 0 1 0 -4.08 0zM460.74 124.84a2.04 2.04 0 1 0 4.08 0a2.04 2.04 0 1 0 -4.08 0zM463.36 128.96a2.04 2.04 0 1 0 4.08 0a2.04 2.04 0 1 0 -4.08 0zM465.99 133.06a2.04 2.04 0 1 0 4.08 0a2.04 2.04 0 1 0 -4.08 0zM468.62 137.13a2.04 2.04 0 1 0 4.08 0a2.04 2.04 0 1 0 -4.08 0zM471.25 141.16a2.04 2.04 0 1 0 4.08 0a2.04 2.04 0 1 0 -4.08 0zM473.88 145.16a2.04 2.04 0 1 0 4.08 0a2.04 2.04 0 1 0 -4.08 0zM476.51 149.13a2.04 2.04 0 1 0 4.08 0a2.04 2.04 0 1 0 -4.08 0zM479.14 153.05a2.04 2.04 0 1 0 4.08 0a2.04 2.04 0 1 0 -4.08 0zM481.77 156.93a2.04 2.04 0 1 0 4.08 0a2.04 2.04 0 1 0 -4.08 0zM484.40 160.77a2.04 2.04 0 1 0 4.08 0a2.04 2.04 0 1 0 -4.08 0zM487.02 164.57a2.04 2.04 0 1 0 4.08 0a2.04 2.04 0 1 0 -4.08 0zM489.65 168.31a2.04 2.04 0 1 0 4.08 0a2.04 2.04 0 1 0 -4.08 0zM492.28 172.00a2.04 2.04 0 1 0 4.08 0a2.04 2.04 0 1 0 -4.08 0zM494.91 175.65a2.04 2.04 0 1 0 4.08 0a2.04 2.04 0 1 0 -4.08 0zM497.54 179.25a2.04 2.04 0 1 0 4.08 0a2.04 2.04 0 1 0 -4.08 0zM500.17 182.79a2.04 2.04 0 1 0 4.08 0a2.04 2.04 0 1 0 -4.08 0zM502.80 186.30a2.04 2.04 0 1 0 4.08 0a2.04 2.04 0 1 0 -4.08 0zM505.43 189.75a2.04 2.04 0 1 0 4.08 0a2.04 2.04 0 1 0 -4.08 0zM508.06 193.16a2.04 2.04 0 1 0 4.08 0a2.04 2.04 0 1 0 -4.08 0zM510.68 196.52a2.04 2.04 0 1 0 4.08 0a2.04 2.04 0 1 0 -4.08 0zM513.31 199.83a2.04 2.04 0 1 0 4.08 0a2.04 2.04 0 1 0 -4.08 0zM515.94 203.10a2.04 2.04 0 1 0 4.08 0a2.04 2.04 0 1 0 -4.08 0zM518.57 206.33a2.04 2.04 0 1 0 4.08 0a2.04 2.04 0 1 0 -4.08 0zM521.20 209.51a2.04 2.04 0 1 0 4.08 0a2.04 2.04 0 1 0 -4.08 0zM523.83 212.64a2.04 2.04 0 1 0 4.08 0a2.04 2.04 0 1 0 -4.08 0zM526.46 215.73a2.04 2.04 0 1 0 4.08 0a2.04 2.04 0 1 0 -4.08 0zM529.09 218.78a2.04 2.04 0 1 0 4.08 0a2.04 2.04 0 1 0 -4.08 0zM531.72 221.79a2.04 2.04 0 1 0 4.08 0a2.04 2.04 0 1 0 -4.08 0zM534.34 224.75a2.04 2.04 0 1 0 4.08 0a2.04 2.04 0 1 0 -4.08 0zM536.97 227.68a2.04 2.04 0 1 0 4.08 0a2.04 2.04 0 1 0 -4.08 0zM539.60 230.55a2.04 2.04 0 1 0 4.08 0a2.04 2.04 0 1 0 -4.08 0zM542.23 233.38a2.04 2.04 0 1 0 4.08 0a2.04 2.04 0 1 0 -4.08 0zM544.86 236.17a2.04 2.04 0 1 0 4.08 0a2.04 2.04 0 1 0 -4.08 0zM547.49 238.90a2.04 2.04 0 1 0 4.08 0a2.04 2.04 0 1 0 -4.08 0zM550.12 241.57a2.04 2.04 0 1 0 4.08 0a2.04 2.04 0 1 0 -4.08 0zM552.75 244.19a2.04 2.04 0 1 0 4.08 0a2.04 2.04 0 1 0 -4.08 0zM555.38 246.74a2.04 2.04 0 1 0 4.08 0a2.04 2.04 0 1 0 -4.08 0zM558.00 249.24a2.04 2.04 0 1 0 4.08 0a2.04 2.04 0 1 0 -4.08 0zM560.63 251.67a2.04 2.04 0 1 0 4.08 0a2.04 2.04 0 1 0 -4.08 0zM563.26 254.03a2.04 2.04 0 1 0 4.08 0a2.04 2.04 0 1 0 -4.08 0zM565.89 256.32a2.04 2.04 0 1 0 4.08 0a2.04 2.04 0 1 0 -4.08 0zM568.52 258.54a2.04 2.04 0 1 0 4.08 0a2.04 2.04 0 1 0 -4.08 0zM571.15 260.69a2.04 2.04 0 1 0 4.08 0a2.04 2.04 0 1 0 -4.08 0zM573.78 262.75a2.04 2.04 0 1 0 4.08 0a2.04 2.04 0 1 0 -4.08 0zM576.41 264.74a2.04 2.04 0 1 0 4.08 0a2.04 2.04 0 1 0 -4.08 0zM579.04 266.64a2.04 2.04 0 1 0 4.08 0a2.04 2.04 0 1 0 -4.08 0zM581.66 268.46a2.04 2.04 0 1 0 4.08 0a2.04 2.04 0 1 0 -4.08 0zM584.29 270.19a2.04 2.04 0 1 0 4.08 0a2.04 2.04 0 1 0 -4.08 0zM586.92 271.83a2.04 2.04 0 1 0 4.08 0a2.04 2.04 0 1 0 -4.08 0zM589.55 273.38a2.04 2.04 0 1 0 4.08 0a2.04 2.04 0 1 0 -4.08 0zM592.18 274.84a2.04 2.04 0 1 0 4.08 0a2.04 2.04 0 1 0 -4.08 0zM594.81 276.23a2.04 2.04 0 1 0 4.08 0a2.04 2.04 0 1 0 -4.08 0zM597.44 277.54a2.04 2.04 0 1 0 4.08 0a2.04 2.04 0 1 0 -4.08 0zM600.07 278.79a2.04 2.04 0 1 0 4.08 0a2.04 2.04 0 1 0 -4.08 0zM602.70 279.97a2.04 2.04 0 1 0 4.08 0a2.04 2.04 0 1 0 -4.08 0zM605.32 281.10a2.04 2.04 0 1 0 4.08 0a2.04 2.04 0 1 0 -4.08 0zM607.95 282.18a2.04 2.04 0 1 0 4.08 0a2.04 2.04 0 1 0 -4.08 0zM610.58 283.21a2.04 2.04 0 1 0 4.08 0a2.04 2.04 0 1 0 -4.08 0zM613.21 284.20a2.04 2.04 0 1 0 4.08 0a2.04 2.04 0 1 0 -4.08 0zM615.84 285.15a2.04 2.04 0 1 0 4.08 0a2.04 2.04 0 1 0 -4.08 0zM618.47 286.08a2.04 2.04 0 1 0 4.08 0a2.04 2.04 0 1 0 -4.08 0zM621.10 286.98a2.04 2.04 0 1 0 4.08 0a2.04 2.04 0 1 0 -4.08 0zM623.73 287.87a2.04 2.04 0 1 0 4.08 0a2.04 2.04 0 1 0 -4.08 0zM626.36 288.74a2.04 2.04 0 1 0 4.08 0a2.04 2.04 0 1 0 -4.08 0zM628.98 289.61a2.04 2.04 0 1 0 4.08 0a2.04 2.04 0 1 0 -4.08 0zM631.61 290.47a2.04 2.04 0 1 0 4.08 0a2.04 2.04 0 1 0 -4.08 0zM634.24 291.34a2.04 2.04 0 1 0 4.08 0a2.04 2.04 0 1 0 -4.08 0zM636.87 292.22a2.04 2.04 0 1 0 4.08 0a2.04 2.04 0 1 0 -4.08 0zM639.50 293.11a2.04 2.04 0 1 0 4.08 0a2.04 2.04 0 1 0 -4.08 0zM642.13 294.03a2.04 2.04 0 1 0 4.08 0a2.04 2.04 0 1 0 -4.08 0zM644.76 294.97a2.04 2.04 0 1 0 4.08 0a2.04 2.04 0 1 0 -4.08 0z" fill="#ff0000"/>
<path d="M408.50 39.18h3.40v3.40h-3.40zM411.13 40.75h3.40v3.40h-3.40zM413.76 42.62h3.40v3.40h-3.40zM416.39 44.78h3.40v3.40h-3.40zM419.02 47.20h3.40v3.40h-3.40zM421.64 49.88h3.40v3.40h-3.40zM424.27 52.80h3.40v3.40h-3.40zM426.90 55.93h3.40v3.40h-3.40zM429.53 59.27h3.40v3.40h-3.40zM432.16 62.79h3.40v3.40h-3.40zM434.79 66.49h3.40v3.40h-3.40zM437.42 70.33h3.40v3.40h-3.40zM440.05 74.32h3.40v3.40h-3.40zM442.68 78.42h3.40v3.40h-3.40zM445.30 82.63h3.40v3.40h-3.40zM447.93 86.92h3.40v3.40h-3.40zM450.56 91.28h3.40v3.40h-3.40zM453.19 95.70h3.40v3.40h-3.40zM455.82 100.15h3.40v3.40h-3.40zM458.45 104.62h3.40v3.40h-3.40zM461.08 109.10h3.40v3.40h-3.40zM463.71 113.57h3.40v3.40h-3.40zM466.34 118.03h3.40v3.40h-3.40zM468.96 122.48h3.40v3.40h-3.40zM471.59 126.91h3.40v3.40h-3.40zM474.22 131.31h3.40v3.40h-3.40zM476.85 135.69h3.40v3.40h-3.40zM479.48 140.05h3.40v3.40h-3.40zM482.11 144.37h3.40v3.40h-3.40zM484.74 148.65h3.40v3.40h-3.40zM487.37 152.89h3.40v3.40h-3.40zM490.00 157.08h3.40v3.40h-3.40zM492.62 161.23h3.40v3.40h-3.40zM495.25 165.32h3.40v3.40h-3.40zM497.88 169.36h3.40v3.40h-3.40zM500.51 173.33h3.40v3.40h-3.40zM503.14 177.24h3.40v3.40h-3.40zM505.77 181.09h3.40v3.40h-3.40zM508.40 184.87h3.40v3.40h-3.40zM511.03 188.59h3.40v3.40h-3.40zM513.66 192.24h3.40v3.40h-3.40zM516.28 195.82h3.40v3.40h-3.40zM518.91 199.33h3.40v3.40h-3.40zM521.54 202.78h3.40v3.40h-3.40zM524.17 206.15h3.40v3.40h-3.40zM526.80 209.46h3.40v3.40h-3.40zM529.43 212.69h3.40v3.40h-3.40zM532.06 215.85h3.40v3.40h-3.40zM534.69 218.94h3.40v3.40h-3.40zM537.32 221.96h3.40v3.40h-3.40zM539.94 224.90h3.40v3.40h-3.40zM542.57 227.77h3.40v3.40h-3.40zM545.20 230.56h3.40v3.40h-3.40zM547.83 233.28h3.40v3.40h-3.40zM550.46 235.92h3.40v3.40h-3.40zM553.09 238.49h3.40v3.40h-3.40zM555.72 240.98h3.40v3.40h-3.40zM558.35 243.40h3.40v3.40h-3.40zM560.98 245.74h3.40v3.40h-3.40zM563.60 248.02h3.40v3.40h-3.40zM566.23 250.22h3.40v3.40h-3.40zM568.86 252.36h3.40v3.40h-3.40zM571.49 254.43h3.40v3.40h-3.40zM574.12 256.44h3.40v3.40h-3.40zM576.75 258.38h3.40v3.40h-3.40zM579.38 260.25h3.40v3.40h-3.40zM582.01 262.06h3.40v3.40h-3.40zM584.64 263.82h3.40v3.40h-3.40zM587.26 265.51h3.40v3.40h-3.40zM589.89 267.14h3.40v3.40h-3.40zM592.52 268.71h3.40v3.40h-3.40zM595.15 270.22h3.40v3.40h-3.40zM597.78 271.68h3.40v3.40h-3.40zM600.41 273.09h3.40v3.40h-3.40zM603.04 274.43h3.40v3.40h-3.40zM605.67 275.73h3.40v3.40h-3.40zM608.30 276.98h3.40v3.40h-3.40zM610.92 278.17h3.40v3.40h-3.40zM613.55 279.32h3.40v3.40h-3.40zM616.18 280.41h3.40v3.40h-3.40zM618.81 281.46h3.40v3.40h-3.40zM621.44 282.46h3.40v3.40h-3.40zM624.07 283.42h3.40v3.40h-3.40zM626.70 284.33h3.40v3.40h-3.40zM629.33 285.21h3.40v3.40h-3.40zM631.96 286.03h3.40v3.40h-3.40zM634.58 286.82h3.40v3.40h-3.40zM637.21 287.57h3.40v3.40h-3.40zM639.84 288.28h3.40v3.40h-3.40zM642.47 288.95h3.40v3.40h-3.40zM645.10 289.59h3.40v3.40h-3.40z" fill="#000000"/>
<ellipse cx="132.2" cy="126.7" rx="76.8" ry="25.4" transform="rotate(14.2 132.2 126.7)" fill="none" stroke="#000" stroke-width="1" stroke-dasharray="4,3"/>
<ellipse cx="157.0" cy="177.6" rx="78.8" ry="21.8" transform="rotate(17.5 157.0 177.6)" fill="none" stroke="#000" stroke-width="1" stroke-dasharray="4,3"/>
<ellipse cx="196.45" cy="235.5" rx="89.6" ry="21.2" transform="rotate(14.8 196.45 235.5)" fill="none" stroke="#000" stroke-width="1" stroke-dasharray="4,3"/>
<ellipse cx="262.1" cy="295.9" rx="66.8" ry="29.9" transform="rotate(9.5 262.1 295.9)" fill="none" stroke="#000" stroke-width="1" stroke-dasharray="4,3"/>
<ellipse cx="441.8" cy="96.9" rx="39.7" ry="54.9" transform="rotate(-1.3 441.8 96.9)" fill="none" stroke="#000" stroke-width="1" stroke-dasharray="4,3"/>
<ellipse cx="474.8" cy="196.8" rx="69.0" ry="27.7" transform="rotate(14.9 474.8 196.8)" fill="none" stroke="#000" stroke-width="1" stroke-dasharray="4,3"/>
<ellipse cx="524.9" cy="255.6" rx="64.2" ry="28.2" transform="rotate(8.2 524.9 255.6)" fill="none" stroke="#000" stroke-width="1" stroke-dasharray="4,3"/>
<ellipse cx="604.5" cy="299.1" rx="61.9" ry="26.3" transform="rotate(4.4 604.5 299.1)" fill="none" stroke="#000" stroke-width="1" stroke-dasharray="4,3"/>
<rect x="63.4" y="2.4" width="272.20" height="331.90" fill="none" stroke="#000" stroke-width="1.5"/>
<path d="M66.05 334.30V330.80M68.33 334.30V330.80M70.30 334.30V330.80M72.04 334.30V330.80M73.60 334.30V328.30M83.85 334.30V330.80M89.84 334.30V330.80M94.09 334.30V330.80M97.39 334.30V330.80M100.09 334.30V330.80M102.37 334.30V330.80M104.34 334.30V330.80M106.08 334.30V330.80M107.64 334.30V328.30M117.89 334.30V330.80M123.88 334.30V330.80M128.13 334.30V330.80M131.43 334.30V330.80M134.13 334.30V330.80M136.41 334.30V330.80M138.38 334.30V330.80M140.12 334.30V330.80M141.68 334.30V328.30M151.93 334.30V330.80M157.92 334.30V330.80M162.17 334.30V330.80M165.47 334.30V330.80M168.17 334.30V330.80M170.45 334.30V330.80M172.42 334.30V330.80M174.16 334.30V330.80M175.72 334.30V328.30M185.97 334.30V330.80M191.96 334.30V330.80M196.21 334.30V330.80M199.51 334.30V330.80M202.21 334.30V330.80M204.49 334.30V330.80M206.46 334.30V330.80M208.20 334.30V330.80M209.76 334.30V328.30M220.01 334.30V330.80M226.00 334.30V330.80M230.25 334.30V330.80M233.55 334.30V330.80M236.25 334.30V330.80M238.53 334.30V330.80M240.50 334.30V330.80M242.24 334.30V330.80M243.80 334.30V328.30M254.05 334.30V330.80M260.04 334.30V330.80M264.29 334.30V330.80M267.59 334.30V330.80M270.29 334.30V330.80M272.57 334.30V330.80M274.54 334.30V330.80M276.28 334.30V330.80M277.84 334.30V328.30M288.09 334.30V330.80M294.08 334.30V330.80M298.33 334.30V330.80M301.63 334.30V330.80M304.33 334.30V330.80M306.61 334.30V330.80M308.58 334.30V330.80M310.32 334.30V330.80M311.88 334.30V328.30M322.13 334.30V330.80M328.12 334.30V330.80M332.37 334.30V330.80M63.40 331.21H66.90M63.40 328.10H66.90M63.40 325.39H66.90M63.40 323.01H66.90M63.40 320.88H69.40M63.40 306.86H66.90M63.40 298.66H66.90M63.40 292.84H66.90M63.40 288.32H66.90M63.40 284.63H66.90M63.40 281.52H66.90M63.40 278.81H66.90M63.40 276.43H66.90M63.40 274.30H69.40M63.40 260.28H66.90M63.40 252.08H66.90M63.40 246.26H66.90M63.40 241.74H66.90M63.40 238.05H66.90M63.40 234.94H66.90M63.40 232.23H66.90M63.40 229.85H66.90M63.40 227.72H69.40M63.40 213.70H66.90M63.40 205.50H66.90M63.40 199.68H66.90M63.40 195.16H66.90M63.40 191.47H66.90M63.40 188.36H66.90M63.40 185.65H66.90M63.40 183.27H66.90M63.40 181.14H69.40M63.40 167.12H66.90M63.40 158.92H66.90M63.40 153.10H66.90M63.40 148.58H66.90M63.40 144.89H66.90M63.40 141.78H66.90M63.40 139.07H66.90M63.40 136.69H66.90M63.40 134.56H69.40M63.40 120.54H66.90M63.40 112.34H66.90M63.40 106.52H66.90M63.40 102.00H66.90M63.40 98.31H66.90M63.40 95.20H66.90M63.40 92.49H66.90M63.40 90.11H66.90M63.40 87.98H69.40M63.40 73.96H66.90M63.40 65.76H66.90M63.40 59.94H66.90M63.40 55.42H66.90M63.40 51.73H66.90M63.40 48.62H66.90M63.40 45.91H66.90M63.40 43.53H66.90M63.40 41.40H69.40M63.40 27.38H66.90M63.40 19.18H66.90M63.40 13.36H66.90M63.40 8.84H66.90M63.40 5.15H66.90" stroke="#000" stroke-width="1.1" fill="none"/>
<text x="73.60" y="358.6" text-anchor="middle" font-size="17">10<tspan font-size="9.5" dy="-9.1">-1</tspan></text>
<text x="107.64" y="358.6" text-anchor="middle" font-size="17">10<tspan font-size="9.5" dy="-9.1">0</tspan></text>
<text x="141.68" y="358.6" text-anchor="middle" font-size="17">10<tspan font-size="9.5" dy="-9.1">1</tspan></text>
<text x="175.72" y="358.6" text-anchor="middle" font-size="17">10<tspan font-size="9.5" dy="-9.1">2</tspan></text>
<text x="209.76" y="358.6" text-anchor="middle" font-size="17">10<tspan font-size="9.5" dy="-9.1">3</tspan></text>
<text x="243.80" y="358.6" text-anchor="middle" font-size="17">10<tspan font-size="9.5" dy="-9.1">4</tspan></text>
<text x="277.84" y="358.6" text-anchor="middle" font-size="17">10<tspan font-size="9.5" dy="-9.1">5</tspan></text>
<text x="311.88" y="358.6" text-anchor="middle" font-size="17">10<tspan font-size="9.5" dy="-9.1">6</tspan></text>
<text x="56.10" y="327.38" text-anchor="end" font-size="17">10<tspan font-size="9.5" dy="-8.6">-11</tspan></text>
<text x="56.10" y="280.80" text-anchor="end" font-size="17">10<tspan font-size="9.5" dy="-8.6">-10</tspan></text>
<text x="56.10" y="234.22" text-anchor="end" font-size="17">10<tspan font-size="9.5" dy="-8.6">-9</tspan></text>
<text x="56.10" y="187.64" text-anchor="end" font-size="17">10<tspan font-size="9.5" dy="-8.6">-8</tspan></text>
<text x="56.10" y="141.06" text-anchor="end" font-size="17">10<tspan font-size="9.5" dy="-8.6">-7</tspan></text>
<text x="56.10" y="94.48" text-anchor="end" font-size="17">10<tspan font-size="9.5" dy="-8.6">-6</tspan></text>
<text x="56.10" y="47.90" text-anchor="end" font-size="17">10<tspan font-size="9.5" dy="-8.6">-5</tspan></text>
<rect x="400.5" y="2.4" width="272.10" height="332.00" fill="none" stroke="#000" stroke-width="1.5"/>
<path d="M403.26 334.40V330.90M405.53 334.40V330.90M407.51 334.40V330.90M409.24 334.40V330.90M410.80 334.40V328.40M421.04 334.40V330.90M427.02 334.40V330.90M431.27 334.40V330.90M434.56 334.40V330.90M437.26 334.40V330.90M439.53 334.40V330.90M441.51 334.40V330.90M443.24 334.40V330.90M444.80 334.40V328.40M455.04 334.40V330.90M461.02 334.40V330.90M465.27 334.40V330.90M468.56 334.40V330.90M471.26 334.40V330.90M473.53 334.40V330.90M475.51 334.40V330.90M477.24 334.40V330.90M478.80 334.40V328.40M489.04 334.40V330.90M495.02 334.40V330.90M499.27 334.40V330.90M502.56 334.40V330.90M505.26 334.40V330.90M507.53 334.40V330.90M509.51 334.40V330.90M511.24 334.40V330.90M512.80 334.40V328.40M523.04 334.40V330.90M529.02 334.40V330.90M533.27 334.40V330.90M536.56 334.40V330.90M539.26 334.40V330.90M541.53 334.40V330.90M543.51 334.40V330.90M545.24 334.40V330.90M546.80 334.40V328.40M557.04 334.40V330.90M563.02 334.40V330.90M567.27 334.40V330.90M570.56 334.40V330.90M573.26 334.40V330.90M575.53 334.40V330.90M577.51 334.40V330.90M579.24 334.40V330.90M580.80 334.40V328.40M591.04 334.40V330.90M597.02 334.40V330.90M601.27 334.40V330.90M604.56 334.40V330.90M607.26 334.40V330.90M609.53 334.40V330.90M611.51 334.40V330.90M613.24 334.40V330.90M614.80 334.40V328.40M625.04 334.40V330.90M631.02 334.40V330.90M635.27 334.40V330.90M638.56 334.40V330.90M641.26 334.40V330.90M643.53 334.40V330.90M645.51 334.40V330.90M647.24 334.40V330.90M648.80 334.40V328.40M659.04 334.40V330.90M665.02 334.40V330.90M669.27 334.40V330.90M400.50 331.78H404.00M400.50 329.19H404.00M400.50 326.95H404.00M400.50 324.97H404.00M400.50 323.20H406.50M400.50 311.56H404.00M400.50 304.75H404.00M400.50 299.92H404.00M400.50 296.17H404.00M400.50 293.11H404.00M400.50 290.52H404.00M400.50 288.27H404.00M400.50 286.29H404.00M400.50 284.52H406.50M400.50 272.88H404.00M400.50 266.07H404.00M400.50 261.24H404.00M400.50 257.49H404.00M400.50 254.43H404.00M400.50 251.84H404.00M400.50 249.60H404.00M400.50 247.62H404.00M400.50 245.85H406.50M400.50 234.21H404.00M400.50 227.40H404.00M400.50 222.57H404.00M400.50 218.82H404.00M400.50 215.76H404.00M400.50 213.17H404.00M400.50 210.92H404.00M400.50 208.94H404.00M400.50 207.18H406.50M400.50 195.53H404.00M400.50 188.72H404.00M400.50 183.89H404.00M400.50 180.14H404.00M400.50 177.08H404.00M400.50 174.49H404.00M400.50 172.25H404.00M400.50 170.27H404.00M400.50 168.50H406.50M400.50 156.86H404.00M400.50 150.05H404.00M400.50 145.22H404.00M400.50 141.47H404.00M400.50 138.41H404.00M400.50 135.82H404.00M400.50 133.57H404.00M400.50 131.59H404.00M400.50 129.82H406.50M400.50 118.18H404.00M400.50 111.37H404.00M400.50 106.54H404.00M400.50 102.79H404.00M400.50 99.73H404.00M400.50 97.14H404.00M400.50 94.90H404.00M400.50 92.92H404.00M400.50 91.15H406.50M400.50 79.51H404.00M400.50 72.70H404.00M400.50 67.87H404.00M400.50 64.12H404.00M400.50 61.06H404.00M400.50 58.47H404.00M400.50 56.22H404.00M400.50 54.24H404.00M400.50 52.47H406.50M400.50 40.83H404.00M400.50 34.02H404.00M400.50 29.19H404.00M400.50 25.44H404.00M400.50 22.38H404.00M400.50 19.79H404.00M400.50 17.55H404.00M400.50 15.57H404.00M400.50 13.80H406.50" stroke="#000" stroke-width="1.1" fill="none"/>
<text x="410.80" y="358.6" text-anchor="middle" font-size="17">10<tspan font-size="9.5" dy="-9.1">-1</tspan></text>
<text x="444.80" y="358.6" text-anchor="middle" font-size="17">10<tspan font-size="9.5" dy="-9.1">0</tspan></text>
<text x="478.80" y="358.6" text-anchor="middle" font-size="17">10<tspan font-size="9.5" dy="-9.1">1</tspan></text>
<text x="512.80" y="358.6" text-anchor="middle" font-size="17">10<tspan font-size="9.5" dy="-9.1">2</tspan></text>
<text x="546.80" y="358.6" text-anchor="middle" font-size="17">10<tspan font-size="9.5" dy="-9.1">3</tspan></text>
<text x="580.80" y="358.6" text-anchor="middle" font-size="17">10<tspan font-size="9.5" dy="-9.1">4</tspan></text>
<text x="614.80" y="358.6" text-anchor="middle" font-size="17">10<tspan font-size="9.5" dy="-9.1">5</tspan></text>
<text x="648.80" y="358.6" text-anchor="middle" font-size="17">10<tspan font-size="9.5" dy="-9.1">6</tspan></text>
<text x="393.20" y="329.70" text-anchor="end" font-size="17">10<tspan font-size="9.5" dy="-8.6">-11</tspan></text>
<text x="393.20" y="291.02" text-anchor="end" font-size="17">10<tspan font-size="9.5" dy="-8.6">-10</tspan></text>
<text x="393.20" y="252.35" text-anchor="end" font-size="17">10<tspan font-size="9.5" dy="-8.6">-9</tspan></text>
<text x="393.20" y="213.68" text-anchor="end" font-size="17">10<tspan font-size="9.5" dy="-8.6">-8</tspan></text>
<text x="393.20" y="175.00" text-anchor="end" font-size="17">10<tspan font-size="9.5" dy="-8.6">-7</tspan></text>
<text x="393.20" y="136.32" text-anchor="end" font-size="17">10<tspan font-size="9.5" dy="-8.6">-6</tspan></text>
<text x="393.20" y="97.65" text-anchor="end" font-size="17">10<tspan font-size="9.5" dy="-8.6">-5</tspan></text>
<text x="393.20" y="58.97" text-anchor="end" font-size="17">10<tspan font-size="9.5" dy="-8.6">-4</tspan></text>
<text x="393.20" y="20.30" text-anchor="end" font-size="17">10<tspan font-size="9.5" dy="-8.6">-3</tspan></text>
<g fill="#000">
<text transform="translate(14.3,206.3) rotate(-90) scale(1.1,1)" font-size="17"><tspan font-style="italic">C&#39;</tspan> (F/cm)</text>
<text transform="translate(356.5,199.3) rotate(-90) scale(1.06,1)" font-size="17"><tspan font-style="italic">C&#39;</tspan> (F/cm)</text>
<text transform="translate(177.2,388) scale(1.05,1)" font-size="17">f (Hz)</text>
<text transform="translate(514.0,388) scale(1.05,1)" font-size="17">f (Hz)</text>
<text transform="translate(75.5,19) scale(1.06,1)" font-size="14">700 <tspan dy="0.8">&#176;</tspan><tspan dy="-0.8">C</tspan></text>
<text transform="translate(412.4,26.3) scale(1.07,1)" font-size="14">700 <tspan dy="0.8">&#176;</tspan><tspan dy="-0.8">C</tspan></text>
<text transform="translate(73.0,274.3) scale(1.07,1)" font-size="14">250 <tspan dy="0.8">&#176;</tspan><tspan dy="-0.8">C</tspan></text>
<text transform="translate(408.6,271.4) scale(1.09,1)" font-size="14">250 <tspan dy="0.8">&#176;</tspan><tspan dy="-0.8">C</tspan></text>
<text transform="translate(91.0,43.7) scale(1.08,1)" font-size="18">W</text>
<text transform="translate(489.2,94.7) scale(1.05,1)" font-size="18">W</text>
<text transform="translate(307.8,21.7) scale(1.12,1)" font-size="19">(a)</text>
<text transform="translate(643.8,21.7) scale(1.09,1)" font-size="19">(b)</text>
<text transform="translate(70.9,321.8) scale(1.08,1)" font-size="19">(a)</text>
<text transform="translate(410.2,324.4) scale(1.08,1)" font-size="19">(b)</text>
<text transform="translate(202.2,60.5) scale(1.13,1)" font-size="18">BiT-Bi</text>
<text transform="translate(276.2,60.8) scale(1.04,1)" font-size="18">O</text>
<text transform="translate(292.0,61) scale(1.0,1)" font-size="11">2</text>
<text transform="translate(553.8,65.8) scale(1.14,1)" font-size="18">BiT-Bi</text>
<text transform="translate(628.4,65.8) scale(1.0,1)" font-size="18">N</text>
<text transform="translate(640.0,66) scale(1.2,1)" font-size="11">2</text>
<text transform="translate(188.5,110.6) scale(1.04,1)" font-size="18">ED</text>
<text transform="translate(231.3,182.9) scale(1.05,1)" font-size="18">GB</text>
<text transform="translate(257.6,232.4) scale(1.02,1)" font-size="18">PB</text>
<text transform="translate(301.6,275.3) scale(1.03,1)" font-size="18">CP</text>
<text transform="translate(534.5,185.6) scale(1.05,1)" font-size="18">GB</text>
<text transform="translate(576.6,232.1) scale(1.02,1)" font-size="18">PB</text>
<text transform="translate(612.9,264.1) scale(1.03,1)" font-size="18">CP</text>
</g>
<path d="M86.5 29V252" stroke="#666" stroke-width="1"/>
<path d="M84.7 251.5L88.3 251.5L86.5 259.1Z" fill="#000"/>
<path d="M425.3 35.2V248" stroke="#666" stroke-width="1"/>
<path d="M423.5 247.6L427.1 247.6L425.3 255.2Z" fill="#000"/>
</svg>
</body></html>
